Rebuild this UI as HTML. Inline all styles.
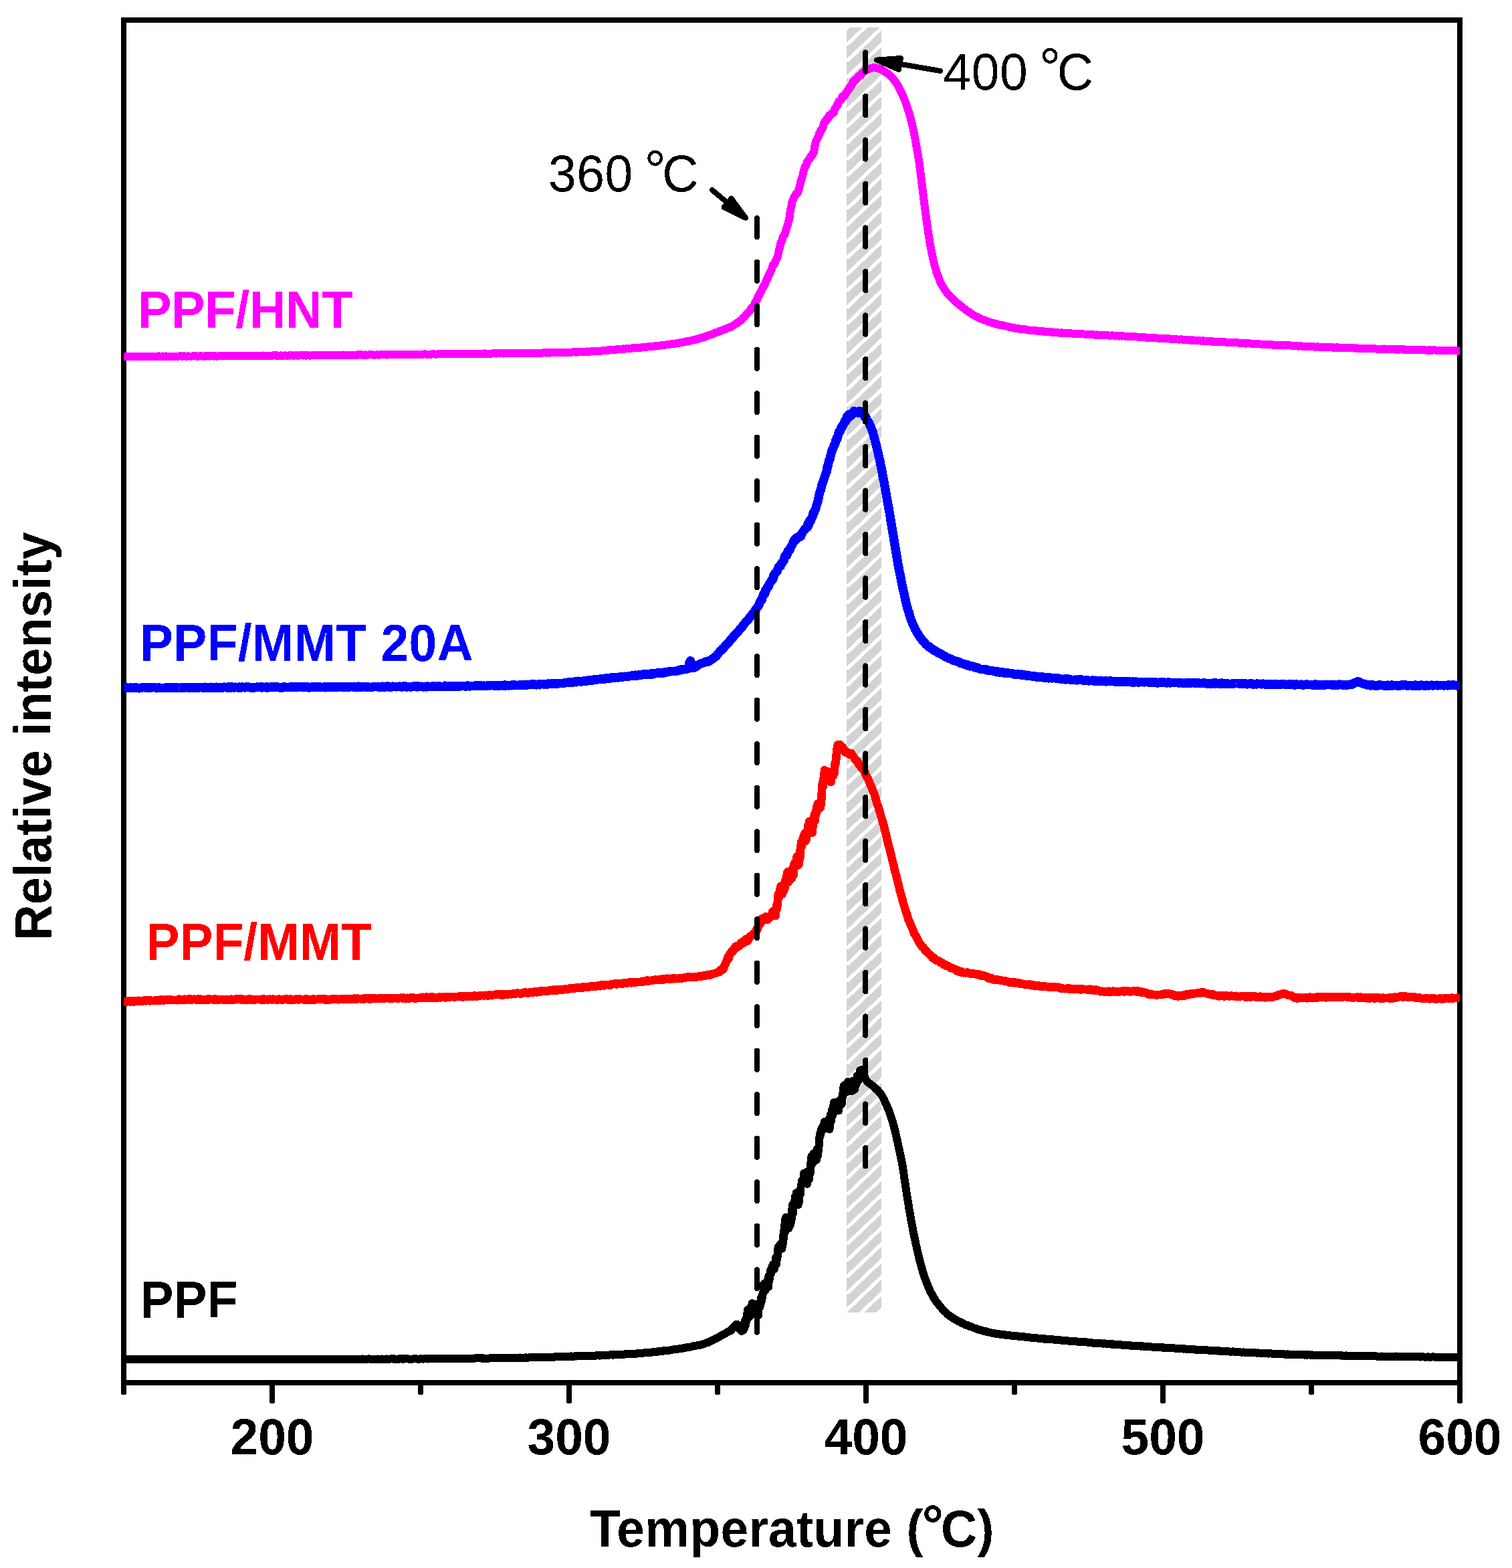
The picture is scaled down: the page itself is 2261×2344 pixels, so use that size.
<!DOCTYPE html>
<html lang="en"><head><meta charset="utf-8"><title>Relative intensity vs Temperature</title>
<style>html,body{margin:0;padding:0;background:#fff}body{width:2261px;height:2344px;overflow:hidden}svg text{white-space:pre}</style>
</head><body>
<svg width="2261" height="2344" viewBox="0 0 2261 2344" style="display:block" shape-rendering="crispEdges" role="img" aria-label="Relative intensity versus temperature for PPF, PPF/MMT, PPF/MMT 20A and PPF/HNT">
<defs><filter id="al" filterUnits="userSpaceOnUse" x="0" y="0" width="2261" height="2344" color-interpolation-filters="sRGB"><feComponentTransfer><feFuncA type="discrete" tableValues="0 1"/></feComponentTransfer></filter><clipPath id="hc"><rect x="1266" y="41" width="52" height="1921"/></clipPath></defs>
<rect width="2261" height="2344" fill="#fff"/>
<rect x="1266" y="41" width="52" height="1921" fill="#d3d3d3"/>
<path d="M1260,-1.0L1324,-61.8M1260,23.6L1324,-37.2M1260,48.1L1324,-12.7M1260,72.7L1324,11.9M1260,97.3L1324,36.5M1260,121.8L1324,61.0M1260,146.4L1324,85.6M1260,171.0L1324,110.2M1260,195.5L1324,134.7M1260,220.1L1324,159.3M1260,244.7L1324,183.9M1260,269.2L1324,208.4M1260,293.8L1324,233.0M1260,318.4L1324,257.6M1260,342.9L1324,282.1M1260,367.5L1324,306.7M1260,392.1L1324,331.3M1260,416.6L1324,355.8M1260,441.2L1324,380.4M1260,465.8L1324,405.0M1260,490.3L1324,429.5M1260,514.9L1324,454.1M1260,539.5L1324,478.7M1260,564.0L1324,503.2M1260,588.6L1324,527.8M1260,613.2L1324,552.4M1260,637.7L1324,576.9M1260,662.3L1324,601.5M1260,686.9L1324,626.0M1260,711.4L1324,650.6M1260,736.0L1324,675.2M1260,760.5L1324,699.7M1260,785.1L1324,724.3M1260,809.7L1324,748.9M1260,834.2L1324,773.4M1260,858.8L1324,798.0M1260,883.4L1324,822.6M1260,907.9L1324,847.1M1260,932.5L1324,871.7M1260,957.1L1324,896.3M1260,981.6L1324,920.8M1260,1006.2L1324,945.4M1260,1030.8L1324,970.0M1260,1055.3L1324,994.5M1260,1079.9L1324,1019.1M1260,1104.5L1324,1043.7M1260,1129.0L1324,1068.2M1260,1153.6L1324,1092.8M1260,1178.2L1324,1117.4M1260,1202.7L1324,1141.9M1260,1227.3L1324,1166.5M1260,1251.9L1324,1191.1M1260,1276.4L1324,1215.6M1260,1301.0L1324,1240.2M1260,1325.6L1324,1264.8M1260,1350.1L1324,1289.3M1260,1374.7L1324,1313.9M1260,1399.3L1324,1338.5M1260,1423.8L1324,1363.0M1260,1448.4L1324,1387.6M1260,1473.0L1324,1412.2M1260,1497.5L1324,1436.7M1260,1522.1L1324,1461.3M1260,1546.7L1324,1485.9M1260,1571.2L1324,1510.4M1260,1595.8L1324,1535.0M1260,1620.4L1324,1559.6M1260,1644.9L1324,1584.1M1260,1669.5L1324,1608.7M1260,1694.1L1324,1633.3M1260,1718.6L1324,1657.8M1260,1743.2L1324,1682.4M1260,1767.8L1324,1707.0M1260,1792.3L1324,1731.5M1260,1816.9L1324,1756.1M1260,1841.5L1324,1780.7M1260,1866.0L1324,1805.2M1260,1890.6L1324,1829.8M1260,1915.1L1324,1854.3M1260,1939.7L1324,1878.9M1260,1964.3L1324,1903.5M1260,1988.8L1324,1928.0M1260,2013.4L1324,1952.6" stroke="#fff" stroke-width="5.5" fill="none" clip-path="url(#hc)"/>
<path d="M1266,67.7h3.7v3.4h-3.7zM1266,92.3h3.7v3.4h-3.7zM1266,116.8h3.7v3.4h-3.7zM1266,141.4h3.7v3.4h-3.7zM1266,166.0h3.7v3.4h-3.7zM1266,190.5h3.7v3.4h-3.7zM1266,215.1h3.7v3.4h-3.7zM1266,239.7h3.7v3.4h-3.7zM1266,264.2h3.7v3.4h-3.7zM1266,288.8h3.7v3.4h-3.7zM1266,313.4h3.7v3.4h-3.7zM1266,337.9h3.7v3.4h-3.7zM1266,362.5h3.7v3.4h-3.7zM1266,387.1h3.7v3.4h-3.7zM1266,411.6h3.7v3.4h-3.7zM1266,436.2h3.7v3.4h-3.7zM1266,460.8h3.7v3.4h-3.7zM1266,485.3h3.7v3.4h-3.7zM1266,509.9h3.7v3.4h-3.7zM1266,534.5h3.7v3.4h-3.7zM1266,559.0h3.7v3.4h-3.7zM1266,583.6h3.7v3.4h-3.7zM1266,608.2h3.7v3.4h-3.7zM1266,632.7h3.7v3.4h-3.7zM1266,657.3h3.7v3.4h-3.7zM1266,681.9h3.7v3.4h-3.7zM1266,706.4h3.7v3.4h-3.7zM1266,731.0h3.7v3.4h-3.7zM1266,755.5h3.7v3.4h-3.7zM1266,780.1h3.7v3.4h-3.7zM1266,804.7h3.7v3.4h-3.7zM1266,829.2h3.7v3.4h-3.7zM1266,853.8h3.7v3.4h-3.7zM1266,878.4h3.7v3.4h-3.7zM1266,902.9h3.7v3.4h-3.7zM1266,927.5h3.7v3.4h-3.7zM1266,952.1h3.7v3.4h-3.7zM1266,976.6h3.7v3.4h-3.7zM1266,1001.2h3.7v3.4h-3.7zM1266,1025.8h3.7v3.4h-3.7zM1266,1050.3h3.7v3.4h-3.7zM1266,1074.9h3.7v3.4h-3.7zM1266,1099.5h3.7v3.4h-3.7zM1266,1124.0h3.7v3.4h-3.7zM1266,1148.6h3.7v3.4h-3.7zM1266,1173.2h3.7v3.4h-3.7zM1266,1197.7h3.7v3.4h-3.7zM1266,1222.3h3.7v3.4h-3.7zM1266,1246.9h3.7v3.4h-3.7zM1266,1271.4h3.7v3.4h-3.7zM1266,1296.0h3.7v3.4h-3.7zM1266,1320.6h3.7v3.4h-3.7zM1266,1345.1h3.7v3.4h-3.7zM1266,1369.7h3.7v3.4h-3.7zM1266,1394.3h3.7v3.4h-3.7zM1266,1418.8h3.7v3.4h-3.7zM1266,1443.4h3.7v3.4h-3.7zM1266,1468.0h3.7v3.4h-3.7zM1266,1492.5h3.7v3.4h-3.7zM1266,1517.1h3.7v3.4h-3.7zM1266,1541.7h3.7v3.4h-3.7zM1266,1566.2h3.7v3.4h-3.7zM1266,1590.8h3.7v3.4h-3.7zM1266,1615.4h3.7v3.4h-3.7zM1266,1639.9h3.7v3.4h-3.7zM1266,1664.5h3.7v3.4h-3.7zM1266,1689.1h3.7v3.4h-3.7zM1266,1713.6h3.7v3.4h-3.7zM1266,1738.2h3.7v3.4h-3.7zM1266,1762.8h3.7v3.4h-3.7zM1266,1787.3h3.7v3.4h-3.7zM1266,1811.9h3.7v3.4h-3.7zM1266,1836.5h3.7v3.4h-3.7zM1266,1861.0h3.7v3.4h-3.7zM1266,1885.6h3.7v3.4h-3.7zM1266,1910.1h3.7v3.4h-3.7zM1266,1934.7h3.7v3.4h-3.7z" fill="#d3d3d3"/>
<g stroke="#000" stroke-width="8" fill="none" stroke-linecap="round">
<path d="M185,30H2183M185,2067H2183" stroke-linecap="square"/>
<path d="M185,30V2081.5M2183,30V2094.5"/>
<path d="M407.0,2067V2094.5M851.0,2067V2094.5M1295.0,2067V2094.5M1739.0,2067V2094.5M629.0,2067V2081.5M1073.0,2067V2081.5M1517.0,2067V2081.5M1961.0,2067V2081.5"/>
</g>
<g fill="none" stroke-linejoin="round" stroke-linecap="butt">
<path d="M185.0,2032.0 L186.5,2032.0 L188.0,2031.9 L189.5,2031.8 L191.0,2031.7 L192.5,2031.9 L194.0,2032.3 L195.5,2032.2 L197.0,2032.2 L198.5,2031.8 L200.0,2032.0 L201.5,2031.9 L203.0,2031.8 L204.5,2031.8 L206.0,2031.8 L207.5,2032.3 L209.0,2032.2 L210.5,2032.2 L212.0,2032.2 L213.5,2031.8 L215.0,2031.9 L216.5,2032.1 L218.0,2032.1 L219.5,2032.2 L221.0,2032.2 L222.5,2031.8 L224.0,2032.1 L225.5,2032.1 L227.0,2032.0 L228.5,2031.8 L230.0,2032.0 L231.5,2031.8 L233.0,2032.3 L234.5,2032.2 L236.0,2032.0 L237.5,2031.9 L239.0,2032.2 L240.5,2032.0 L242.0,2032.2 L243.5,2032.2 L245.0,2032.0 L246.5,2031.9 L248.0,2032.1 L249.5,2032.0 L251.0,2031.8 L252.5,2031.9 L254.0,2032.2 L255.5,2031.7 L257.0,2031.7 L258.5,2032.1 L260.0,2031.9 L261.5,2032.0 L263.0,2032.0 L264.5,2031.9 L266.0,2032.3 L267.5,2031.8 L269.0,2031.9 L270.5,2031.8 L272.0,2032.1 L273.5,2031.9 L275.0,2031.9 L276.5,2032.1 L278.0,2031.9 L279.5,2032.0 L281.0,2032.2 L282.5,2031.8 L284.0,2031.7 L285.5,2031.8 L287.0,2032.2 L288.5,2032.1 L290.0,2031.8 L291.5,2031.9 L293.0,2031.8 L294.5,2032.0 L296.0,2031.7 L297.5,2032.1 L299.0,2032.2 L300.5,2032.3 L302.0,2032.1 L303.5,2032.3 L305.0,2031.7 L306.5,2031.9 L308.0,2032.3 L309.5,2032.2 L311.0,2031.9 L312.5,2032.3 L314.0,2032.1 L315.5,2032.2 L317.0,2031.9 L318.5,2031.8 L320.0,2032.0 L321.5,2031.8 L323.0,2031.9 L324.5,2032.3 L326.0,2031.9 L327.5,2031.7 L329.0,2031.7 L330.5,2031.8 L332.0,2032.2 L333.5,2031.9 L335.0,2031.9 L336.5,2031.8 L338.0,2032.3 L339.5,2032.0 L341.0,2031.8 L342.5,2031.7 L344.0,2031.7 L345.5,2031.8 L347.0,2032.1 L348.5,2031.8 L350.0,2031.7 L351.5,2032.0 L353.0,2031.8 L354.5,2032.3 L356.0,2031.8 L357.5,2032.0 L359.0,2032.2 L360.5,2031.9 L362.0,2032.3 L363.5,2032.0 L365.0,2031.8 L366.5,2031.9 L368.0,2031.7 L369.5,2032.0 L371.0,2031.8 L372.5,2032.2 L374.0,2032.2 L375.5,2032.0 L377.0,2031.7 L378.5,2031.9 L380.0,2031.8 L381.5,2031.8 L383.0,2031.8 L384.5,2032.2 L386.0,2031.8 L387.5,2031.7 L389.0,2032.3 L390.5,2032.0 L391.5,2032.3 L392.0,2031.9 L393.5,2032.2 L395.0,2032.1 L396.5,2032.2 L398.0,2032.1 L399.5,2032.0 L401.0,2031.8 L402.5,2031.8 L404.0,2032.2 L405.5,2032.2 L407.0,2032.3 L408.5,2031.9 L410.0,2032.1 L411.5,2032.2 L413.0,2032.1 L414.5,2032.2 L416.0,2032.0 L417.5,2032.1 L419.0,2032.1 L420.5,2031.8 L422.0,2032.2 L423.5,2032.3 L425.0,2031.7 L426.5,2032.3 L428.0,2032.3 L429.5,2032.1 L431.0,2031.7 L432.5,2032.2 L434.0,2031.8 L435.5,2032.3 L437.0,2032.1 L438.5,2031.7 L440.0,2031.8 L441.5,2032.0 L443.0,2032.0 L444.5,2032.1 L446.0,2032.2 L447.5,2031.8 L449.0,2031.7 L450.5,2032.2 L452.0,2031.7 L453.5,2032.2 L455.0,2031.7 L456.5,2032.1 L458.0,2032.1 L459.5,2032.2 L461.0,2032.0 L462.5,2032.2 L464.0,2031.7 L465.5,2032.0 L467.0,2031.8 L468.5,2032.2 L470.0,2032.1 L471.5,2031.9 L473.0,2031.9 L474.5,2031.6 L476.0,2031.6 L477.5,2032.0 L479.0,2031.9 L480.5,2032.1 L482.0,2032.0 L483.5,2031.7 L485.0,2031.8 L486.5,2032.0 L488.0,2031.9 L489.5,2031.6 L491.0,2032.1 L492.5,2032.1 L494.0,2031.6 L495.5,2031.9 L497.0,2031.8 L498.5,2032.0 L500.0,2031.7 L501.5,2031.7 L503.0,2031.8 L504.5,2032.1 L506.0,2031.6 L507.5,2031.6 L509.0,2031.9 L510.5,2032.1 L512.0,2031.8 L513.5,2031.8 L515.0,2032.0 L516.5,2032.0 L518.0,2031.5 L519.5,2032.0 L521.0,2031.6 L522.5,2031.7 L524.0,2032.0 L525.5,2031.7 L527.0,2031.9 L528.5,2031.6 L530.0,2032.0 L531.5,2031.6 L533.0,2031.5 L534.5,2031.7 L536.0,2031.6 L537.5,2031.8 L539.0,2032.0 L540.5,2031.9 L542.0,2031.4 L543.5,2031.6 L545.0,2031.7 L546.5,2031.7 L548.0,2031.8 L549.5,2031.7 L551.0,2031.4 L552.5,2031.5 L554.0,2031.9 L555.5,2031.6 L557.0,2031.8 L558.5,2032.0 L560.0,2031.7 L561.5,2031.8 L563.0,2031.7 L564.5,2031.5 L566.0,2031.9 L567.5,2031.6 L569.0,2031.9 L570.5,2031.5 L572.0,2031.8 L573.5,2031.8 L575.0,2031.7 L576.5,2031.6 L578.0,2031.4 L579.5,2031.8 L581.0,2031.5 L582.5,2031.7 L584.0,2031.4 L585.5,2031.3 L587.0,2031.3 L588.5,2031.7 L590.0,2031.4 L591.5,2031.8 L593.0,2031.5 L594.5,2031.6 L596.0,2031.4 L597.5,2031.6 L599.0,2031.3 L600.5,2031.5 L602.0,2031.8 L603.0,2031.3 L603.5,2031.6 L605.0,2031.4 L606.5,2031.4 L608.0,2031.2 L609.5,2031.2 L611.0,2031.7 L612.5,2031.7 L614.0,2031.6 L615.5,2031.6 L617.0,2031.7 L618.5,2031.2 L620.0,2031.5 L621.5,2031.4 L623.0,2031.4 L624.5,2031.7 L626.0,2031.5 L627.5,2031.7 L629.0,2031.1 L630.5,2031.4 L632.0,2031.5 L633.5,2031.5 L635.0,2031.4 L636.5,2031.5 L638.0,2031.2 L639.5,2031.6 L641.0,2031.2 L642.5,2031.3 L644.0,2031.5 L645.5,2031.4 L647.0,2031.1 L648.5,2031.1 L650.0,2031.1 L651.5,2031.3 L653.0,2031.5 L654.5,2031.4 L656.0,2031.1 L657.5,2031.1 L659.0,2031.3 L660.5,2031.0 L662.0,2031.1 L663.5,2030.8 L665.0,2030.9 L666.5,2031.1 L668.0,2031.2 L669.5,2031.1 L671.0,2030.9 L672.5,2031.3 L674.0,2031.1 L675.5,2030.8 L677.0,2030.7 L678.5,2031.2 L680.0,2031.2 L681.5,2031.2 L683.0,2031.0 L684.5,2030.8 L686.0,2030.6 L687.5,2030.7 L689.0,2030.7 L690.5,2031.1 L692.0,2031.0 L693.5,2031.0 L695.0,2030.6 L696.5,2030.6 L698.0,2030.6 L699.5,2031.0 L701.0,2030.5 L702.5,2030.9 L704.0,2030.8 L705.5,2030.7 L707.0,2030.9 L708.5,2030.5 L710.0,2030.6 L711.5,2030.4 L713.0,2030.3 L714.5,2030.3 L716.0,2030.4 L717.5,2030.3 L719.0,2030.2 L720.5,2030.8 L722.0,2030.3 L723.5,2030.7 L725.0,2030.5 L726.5,2030.5 L728.0,2030.5 L729.5,2030.6 L731.0,2030.6 L732.5,2030.4 L734.0,2030.3 L735.5,2030.4 L737.0,2030.4 L738.5,2030.3 L740.0,2030.2 L741.5,2030.0 L743.0,2030.4 L744.5,2030.1 L746.0,2029.9 L747.5,2029.9 L749.0,2030.3 L750.5,2029.9 L752.0,2030.0 L753.5,2030.1 L755.0,2030.2 L756.5,2029.9 L758.0,2029.9 L759.5,2029.9 L761.0,2029.6 L761.7,2030.1 L762.5,2029.6 L764.0,2030.1 L765.5,2029.6 L767.0,2029.6 L768.5,2030.0 L770.0,2030.0 L771.5,2029.6 L773.0,2029.8 L774.5,2029.7 L776.0,2029.8 L777.5,2029.5 L779.0,2029.8 L780.5,2029.9 L782.0,2029.7 L783.5,2029.8 L785.0,2029.8 L786.5,2029.4 L788.0,2029.6 L789.5,2029.6 L791.0,2029.4 L792.5,2029.1 L794.0,2029.4 L795.5,2029.5 L797.0,2029.1 L798.5,2029.3 L800.0,2029.4 L801.5,2029.2 L803.0,2028.8 L804.5,2029.2 L806.0,2028.9 L807.5,2029.2 L809.0,2029.1 L810.5,2028.8 L812.0,2029.1 L813.5,2028.9 L815.0,2028.7 L816.5,2029.0 L818.0,2029.0 L819.5,2028.9 L821.0,2028.9 L822.5,2028.7 L824.0,2028.7 L825.5,2028.6 L827.0,2028.5 L828.5,2028.8 L830.0,2028.3 L831.5,2028.1 L833.0,2028.5 L834.5,2028.3 L836.0,2028.3 L837.5,2028.3 L839.0,2028.0 L840.5,2027.9 L842.0,2027.8 L843.5,2028.2 L845.0,2028.2 L846.5,2028.1 L848.0,2027.7 L849.5,2028.1 L851.0,2028.0 L852.5,2027.8 L854.0,2027.4 L855.5,2027.9 L857.0,2027.7 L858.5,2027.7 L860.0,2027.2 L861.5,2027.6 L863.0,2027.2 L864.5,2027.4 L866.0,2027.1 L867.5,2027.2 L869.0,2027.5 L870.5,2027.4 L872.0,2027.3 L873.5,2027.0 L875.0,2027.0 L876.5,2027.1 L878.0,2026.7 L879.5,2026.9 L881.0,2027.1 L882.5,2027.0 L884.0,2027.0 L885.5,2026.6 L887.0,2026.8 L888.5,2026.8 L890.0,2026.7 L891.5,2026.4 L893.0,2026.2 L894.5,2026.1 L896.0,2026.5 L897.5,2026.5 L899.0,2026.1 L900.5,2026.3 L902.0,2026.0 L903.5,2026.1 L905.0,2026.1 L906.5,2025.8 L908.0,2025.9 L909.5,2025.6 L911.0,2025.7 L912.5,2025.3 L914.0,2025.4 L915.5,2025.4 L917.0,2025.7 L918.5,2025.1 L920.0,2025.4 L921.5,2025.0 L923.0,2025.4 L924.5,2024.9 L926.0,2024.7 L927.5,2024.7 L929.0,2025.1 L930.5,2024.8 L932.0,2024.9 L933.5,2024.6 L935.0,2024.3 L936.5,2024.3 L938.0,2024.3 L939.5,2024.5 L941.0,2024.0 L942.5,2023.9 L944.0,2024.2 L945.5,2023.6 L946.8,2024.1 L947.0,2023.7 L948.5,2023.7 L950.0,2023.7 L951.5,2023.7 L953.0,2023.1 L954.5,2023.5 L956.0,2023.0 L957.5,2023.2 L959.0,2022.6 L960.5,2023.0 L962.0,2022.5 L963.5,2022.4 L965.0,2022.1 L966.5,2022.2 L968.0,2022.0 L969.5,2022.3 L971.0,2021.9 L972.5,2021.6 L974.0,2021.8 L975.5,2021.2 L977.0,2021.1 L978.5,2021.3 L980.0,2021.2 L981.5,2020.8 L983.0,2020.9 L984.5,2020.1 L986.0,2020.5 L987.5,2020.2 L989.0,2020.0 L990.5,2019.9 L992.0,2019.3 L993.5,2019.2 L995.0,2019.0 L996.5,2019.0 L998.0,2018.8 L999.5,2018.6 L999.7,2018.5 L1001.0,2018.6 L1002.5,2018.4 L1004.0,2018.2 L1005.5,2017.6 L1007.0,2017.4 L1008.5,2017.2 L1010.0,2017.0 L1011.5,2017.0 L1013.0,2016.5 L1014.5,2016.6 L1016.0,2016.2 L1017.5,2015.9 L1019.0,2015.9 L1020.5,2015.8 L1022.0,2015.1 L1023.5,2014.9 L1025.0,2015.0 L1026.5,2014.3 L1028.0,2013.9 L1029.5,2013.7 L1031.0,2013.8 L1032.5,2013.5 L1034.0,2013.4 L1035.5,2012.8 L1036.7,2012.3 L1037.0,2012.4 L1038.5,2012.4 L1040.0,2011.9 L1041.5,2011.5 L1043.0,2011.3 L1044.5,2011.1 L1046.0,2010.7 L1047.5,2010.4 L1049.0,2009.8 L1050.0,2009.5 L1050.5,2009.8 L1052.0,2009.3 L1053.5,2008.7 L1055.0,2008.0 L1056.5,2007.5 L1058.0,2007.0 L1059.5,2006.6 L1061.0,2005.7 L1062.5,2005.3 L1064.0,2004.3 L1065.5,2003.4 L1067.0,2002.9 L1068.5,2002.2 L1070.0,2001.4 L1071.5,2000.7 L1073.0,1999.5 L1074.5,1999.0 L1075.5,1998.7 L1076.0,1998.0 L1077.5,1997.2 L1079.0,1996.5 L1080.5,1995.7 L1082.0,1995.0 L1083.5,1994.0 L1085.0,1993.4 L1086.5,1992.2 L1088.0,1991.3 L1089.5,1990.6 L1091.0,1989.5 L1092.5,1989.5 L1093.4,1989.1 L1094.0,1986.5 L1095.5,1985.1 L1097.0,1984.3 L1098.5,1982.9 L1100.0,1980.8 L1101.0,1983.6 L1101.5,1979.6 L1103.0,1981.9 L1104.5,1980.9 L1106.0,1986.8 L1107.5,1986.5 L1109.0,1990.0 L1110.5,1985.6 L1111.2,1989.1 L1112.0,1987.4 L1112.6,1981.8 L1113.2,1985.2 L1113.8,1983.4 L1114.4,1973.0 L1115.0,1980.7 L1115.6,1977.0 L1116.2,1972.7 L1116.8,1970.0 L1117.4,1963.6 L1118.0,1958.1 L1118.6,1964.3 L1119.2,1970.0 L1119.8,1957.0 L1120.4,1960.7 L1121.0,1956.3 L1121.6,1962.8 L1122.2,1967.0 L1122.8,1965.1 L1123.4,1953.9 L1124.0,1955.9 L1124.6,1948.3 L1125.2,1957.6 L1125.8,1963.4 L1126.4,1963.2 L1127.0,1949.3 L1127.6,1955.8 L1128.2,1949.4 L1128.8,1955.6 L1129.4,1964.4 L1130.0,1953.1 L1130.6,1963.2 L1131.2,1965.2 L1131.8,1962.7 L1132.4,1951.6 L1133.0,1964.5 L1133.6,1964.6 L1134.2,1966.0 L1134.8,1948.0 L1135.4,1947.3 L1136.0,1951.2 L1136.6,1953.4 L1137.2,1949.2 L1137.8,1940.4 L1138.4,1947.2 L1139.0,1944.5 L1139.6,1940.6 L1140.2,1935.2 L1140.8,1932.9 L1141.4,1933.0 L1142.0,1919.9 L1142.6,1925.4 L1143.2,1919.2 L1143.8,1918.0 L1144.4,1929.3 L1145.0,1921.0 L1145.6,1920.8 L1146.2,1919.1 L1146.8,1924.1 L1147.4,1914.8 L1148.0,1922.8 L1148.6,1910.5 L1149.2,1923.9 L1149.8,1906.8 L1150.4,1915.2 L1151.0,1908.5 L1151.6,1903.8 L1152.2,1899.1 L1152.8,1897.7 L1153.4,1903.0 L1154.0,1897.6 L1154.6,1897.3 L1155.2,1891.7 L1155.8,1898.2 L1156.4,1889.8 L1157.0,1895.1 L1157.6,1897.6 L1158.2,1894.3 L1158.8,1892.8 L1159.4,1889.7 L1160.0,1880.0 L1160.6,1890.7 L1161.2,1882.7 L1161.8,1880.4 L1162.4,1881.6 L1163.0,1869.6 L1163.6,1865.2 L1164.2,1863.3 L1164.8,1862.9 L1165.4,1862.4 L1166.0,1862.4 L1166.6,1860.3 L1167.2,1865.1 L1167.8,1861.4 L1168.4,1862.5 L1169.0,1866.9 L1169.6,1857.3 L1170.2,1863.3 L1170.8,1858.3 L1171.4,1846.0 L1172.0,1851.3 L1172.6,1835.6 L1173.2,1830.3 L1173.8,1842.8 L1174.4,1821.8 L1175.0,1819.8 L1175.6,1835.2 L1176.2,1819.5 L1176.8,1831.2 L1177.4,1829.3 L1178.0,1823.3 L1178.6,1823.6 L1179.2,1836.6 L1179.8,1826.2 L1180.4,1823.3 L1181.0,1826.8 L1181.6,1831.9 L1182.2,1823.1 L1182.8,1817.3 L1183.4,1826.5 L1184.0,1810.0 L1184.6,1805.4 L1185.2,1800.6 L1185.8,1814.6 L1186.4,1800.7 L1187.0,1802.4 L1187.6,1795.8 L1188.2,1801.2 L1188.8,1789.0 L1189.4,1789.2 L1190.0,1795.3 L1190.6,1783.3 L1191.2,1790.0 L1191.8,1797.3 L1192.4,1794.2 L1193.0,1792.9 L1193.6,1801.1 L1194.2,1792.2 L1194.8,1797.4 L1195.4,1790.5 L1196.0,1783.1 L1196.6,1785.8 L1197.2,1779.0 L1197.8,1771.7 L1198.4,1772.3 L1199.0,1765.3 L1199.6,1767.3 L1200.2,1768.5 L1200.8,1765.6 L1201.4,1765.6 L1202.0,1754.2 L1202.6,1760.3 L1203.2,1764.6 L1203.8,1756.3 L1204.4,1766.3 L1205.0,1752.4 L1205.6,1767.8 L1206.2,1767.7 L1206.8,1770.0 L1207.4,1767.7 L1208.0,1765.4 L1208.6,1759.5 L1209.2,1762.8 L1209.8,1763.3 L1210.4,1754.8 L1211.0,1752.4 L1211.6,1754.5 L1212.2,1739.5 L1212.8,1737.0 L1213.4,1728.4 L1214.0,1741.0 L1214.6,1734.6 L1215.2,1734.1 L1215.8,1725.6 L1216.4,1724.2 L1217.0,1729.1 L1217.6,1736.0 L1218.2,1726.3 L1218.8,1727.2 L1219.4,1726.8 L1220.0,1734.2 L1220.6,1720.8 L1221.2,1733.7 L1221.8,1717.5 L1222.4,1728.5 L1223.0,1727.5 L1223.6,1719.2 L1224.2,1720.4 L1224.8,1707.7 L1225.4,1700.4 L1226.0,1699.3 L1226.6,1692.7 L1227.2,1696.2 L1227.8,1689.3 L1228.4,1687.7 L1229.0,1690.8 L1229.6,1685.5 L1230.2,1684.9 L1230.8,1687.8 L1231.4,1687.1 L1232.0,1683.9 L1232.6,1676.9 L1233.2,1680.0 L1233.8,1684.6 L1234.4,1685.3 L1235.0,1687.5 L1235.6,1684.8 L1236.2,1683.7 L1236.8,1676.4 L1237.4,1683.2 L1238.0,1675.5 L1238.6,1683.9 L1239.2,1675.4 L1239.8,1672.2 L1240.4,1688.1 L1241.0,1685.0 L1241.6,1672.7 L1242.2,1665.5 L1242.8,1676.7 L1243.4,1673.1 L1244.0,1659.2 L1244.6,1668.4 L1245.2,1666.3 L1245.8,1659.6 L1246.4,1652.8 L1247.0,1648.1 L1247.6,1647.9 L1248.2,1654.6 L1248.8,1659.6 L1249.4,1658.0 L1250.0,1650.5 L1250.6,1660.8 L1251.2,1647.6 L1251.8,1657.4 L1252.4,1649.5 L1253.0,1646.4 L1253.6,1649.7 L1254.2,1660.5 L1254.8,1649.9 L1255.4,1645.7 L1256.0,1653.2 L1256.6,1649.4 L1257.2,1651.5 L1257.8,1649.3 L1258.4,1649.0 L1259.0,1649.9 L1259.6,1636.6 L1260.2,1639.1 L1260.8,1627.1 L1261.4,1627.2 L1262.0,1622.6 L1262.6,1634.9 L1263.2,1624.5 L1263.8,1630.5 L1264.4,1633.1 L1265.0,1624.0 L1265.6,1620.5 L1266.2,1621.0 L1266.8,1625.1 L1267.4,1623.0 L1268.0,1617.2 L1268.6,1631.0 L1269.2,1627.1 L1269.8,1631.1 L1270.4,1630.5 L1271.0,1628.2 L1271.6,1629.9 L1272.2,1627.6 L1272.8,1622.5 L1273.4,1629.4 L1274.0,1631.0 L1274.6,1616.3 L1275.2,1616.7 L1275.8,1617.0 L1276.4,1621.9 L1277.0,1629.0 L1277.6,1622.6 L1278.2,1628.1 L1278.8,1618.8 L1279.4,1621.6 L1280.0,1615.1 L1280.6,1620.9 L1281.2,1613.6 L1281.8,1608.3 L1282.4,1612.8 L1283.0,1613.3 L1283.6,1615.3 L1284.2,1606.1 L1284.8,1611.2 L1285.4,1607.8 L1286.0,1600.0 L1286.6,1603.8 L1287.2,1603.5 L1287.8,1602.4 L1288.4,1600.3 L1289.0,1598.7 L1289.6,1599.9 L1290.2,1600.6 L1290.8,1601.5 L1291.4,1601.9 L1292.0,1606.8 L1292.6,1608.2 L1294.1,1612.3 L1294.5,1613.6 L1295.6,1615.0 L1297.1,1617.0 L1298.6,1618.2 L1300.1,1619.6 L1301.6,1620.5 L1303.1,1621.9 L1304.6,1622.9 L1306.1,1623.8 L1306.7,1624.7 L1307.6,1625.4 L1309.1,1626.6 L1310.6,1628.4 L1312.1,1629.3 L1313.6,1631.1 L1315.1,1632.9 L1316.6,1634.5 L1317.3,1635.6 L1318.1,1637.0 L1319.6,1639.2 L1321.1,1642.2 L1322.6,1645.0 L1324.1,1648.7 L1325.2,1651.2 L1325.6,1651.6 L1327.1,1655.4 L1328.6,1658.9 L1330.1,1662.6 L1331.6,1666.9 L1333.1,1671.6 L1333.1,1671.5 L1334.6,1676.4 L1336.1,1681.5 L1337.6,1687.3 L1338.9,1692.6 L1339.1,1693.5 L1340.6,1700.1 L1342.1,1706.7 L1343.6,1713.6 L1344.2,1716.7 L1345.1,1720.7 L1346.6,1727.5 L1348.1,1734.7 L1349.0,1739.2 L1349.6,1742.5 L1351.1,1752.1 L1352.6,1762.8 L1353.7,1770.1 L1354.1,1772.8 L1355.6,1782.5 L1357.1,1791.9 L1358.6,1801.4 L1360.1,1810.8 L1361.2,1816.6 L1361.6,1819.0 L1363.1,1827.3 L1364.6,1835.3 L1366.1,1843.1 L1367.6,1850.3 L1369.1,1857.6 L1370.6,1864.2 L1371.4,1867.8 L1372.1,1870.7 L1373.6,1877.1 L1375.1,1883.3 L1376.6,1889.0 L1378.1,1894.4 L1379.6,1899.8 L1381.1,1904.7 L1381.6,1906.0 L1382.6,1908.9 L1384.1,1913.2 L1385.6,1917.4 L1387.1,1920.8 L1388.6,1924.8 L1390.1,1927.9 L1391.6,1931.6 L1393.1,1934.1 L1394.4,1936.9 L1394.6,1936.8 L1396.1,1939.6 L1397.6,1941.9 L1399.1,1944.5 L1400.6,1946.6 L1402.1,1948.3 L1403.6,1950.2 L1405.1,1952.4 L1406.6,1954.0 L1407.1,1954.5 L1408.1,1955.6 L1409.6,1957.2 L1411.1,1958.9 L1412.6,1960.3 L1414.1,1961.6 L1415.6,1963.1 L1417.1,1964.8 L1418.6,1965.9 L1420.1,1967.0 L1421.6,1968.3 L1422.4,1968.6 L1423.1,1969.0 L1424.6,1970.3 L1426.1,1970.8 L1427.6,1972.2 L1429.1,1972.7 L1430.6,1973.8 L1432.1,1974.6 L1433.6,1975.5 L1435.1,1975.9 L1436.6,1977.0 L1437.8,1977.7 L1438.1,1977.4 L1439.6,1978.5 L1441.1,1978.9 L1442.6,1979.9 L1444.1,1980.7 L1445.6,1980.7 L1447.1,1981.6 L1448.6,1982.2 L1450.0,1983.0 L1450.1,1983.0 L1451.6,1983.0 L1453.1,1983.6 L1454.6,1984.3 L1456.1,1985.1 L1457.6,1985.6 L1459.1,1985.9 L1460.6,1986.7 L1462.1,1987.1 L1463.6,1987.7 L1465.1,1988.0 L1466.6,1988.2 L1468.1,1989.0 L1469.6,1989.4 L1471.1,1990.0 L1472.6,1990.0 L1474.1,1990.3 L1475.6,1990.9 L1477.1,1991.2 L1478.6,1991.6 L1480.1,1991.8 L1481.6,1992.4 L1483.1,1992.6 L1484.6,1992.8 L1484.6,1992.7 L1486.1,1993.2 L1487.6,1993.2 L1489.1,1993.9 L1490.6,1993.7 L1492.1,1994.3 L1493.6,1994.1 L1495.1,1994.4 L1496.6,1994.9 L1498.1,1994.9 L1499.6,1995.1 L1501.1,1995.5 L1502.6,1995.3 L1504.1,1995.8 L1505.6,1995.8 L1507.1,1995.8 L1508.6,1996.0 L1510.1,1996.2 L1511.6,1996.5 L1513.1,1996.6 L1514.6,1996.8 L1516.1,1997.0 L1517.6,1997.3 L1519.1,1997.3 L1520.6,1997.2 L1522.1,1997.6 L1523.6,1997.8 L1525.1,1998.1 L1526.6,1997.9 L1526.9,1998.0 L1528.1,1998.3 L1529.6,1998.2 L1531.1,1998.3 L1532.6,1998.7 L1534.1,1998.7 L1535.6,1999.1 L1537.1,1999.0 L1538.6,1999.0 L1540.1,1999.4 L1541.6,1999.6 L1543.1,1999.9 L1544.6,2000.1 L1546.1,1999.9 L1547.6,2000.0 L1549.1,2000.3 L1550.6,2000.4 L1552.1,2000.6 L1553.6,2000.6 L1555.1,2001.0 L1556.6,2001.2 L1558.1,2001.2 L1559.6,2001.4 L1561.1,2001.6 L1562.6,2001.3 L1564.1,2001.9 L1565.6,2001.6 L1567.1,2001.6 L1568.6,2002.0 L1570.1,2001.9 L1571.6,2002.1 L1573.1,2002.5 L1574.6,2002.3 L1576.1,2002.6 L1577.6,2002.7 L1579.1,2003.2 L1580.6,2002.8 L1582.1,2003.2 L1583.6,2003.3 L1585.1,2003.2 L1586.6,2003.5 L1588.1,2003.6 L1589.6,2003.7 L1591.1,2004.0 L1592.6,2004.1 L1594.1,2004.2 L1595.6,2004.3 L1597.1,2004.5 L1598.6,2004.6 L1600.1,2004.5 L1601.6,2004.9 L1603.1,2004.9 L1604.6,2005.3 L1606.1,2004.9 L1607.6,2005.3 L1609.1,2005.3 L1610.6,2005.6 L1611.5,2005.8 L1612.1,2005.7 L1613.6,2005.8 L1615.1,2006.1 L1616.6,2005.8 L1618.1,2006.4 L1619.6,2006.2 L1621.1,2006.4 L1622.6,2006.2 L1624.1,2006.3 L1625.6,2006.5 L1627.1,2006.8 L1628.6,2006.8 L1630.1,2007.2 L1631.6,2007.0 L1633.1,2007.4 L1634.6,2007.6 L1636.1,2007.6 L1637.6,2007.9 L1639.1,2007.9 L1640.6,2008.0 L1642.1,2007.7 L1643.6,2008.1 L1645.1,2008.0 L1646.6,2008.2 L1648.1,2008.5 L1649.6,2008.6 L1651.1,2008.4 L1652.6,2008.5 L1654.1,2008.6 L1655.6,2009.1 L1657.1,2009.2 L1658.6,2008.9 L1660.1,2009.0 L1661.6,2009.1 L1663.1,2009.8 L1664.6,2009.3 L1666.1,2009.7 L1667.6,2010.0 L1669.1,2009.7 L1670.6,2010.1 L1672.1,2010.0 L1673.6,2010.3 L1675.1,2010.3 L1676.6,2010.2 L1678.1,2010.8 L1679.6,2010.6 L1681.1,2011.0 L1682.6,2010.9 L1684.1,2011.2 L1685.6,2011.1 L1687.1,2010.9 L1688.6,2010.9 L1690.1,2011.6 L1691.6,2011.5 L1693.1,2011.7 L1694.6,2011.8 L1696.1,2011.7 L1697.6,2012.0 L1699.1,2012.0 L1700.6,2011.8 L1702.1,2012.2 L1703.6,2012.5 L1705.1,2012.4 L1706.6,2012.6 L1708.1,2012.3 L1709.6,2012.6 L1711.1,2012.7 L1712.6,2012.9 L1714.1,2013.1 L1715.6,2013.0 L1717.1,2013.2 L1718.6,2013.2 L1720.1,2013.4 L1721.6,2013.5 L1723.1,2013.5 L1724.6,2013.5 L1726.1,2013.9 L1727.6,2013.7 L1729.1,2014.0 L1730.6,2013.9 L1732.1,2014.4 L1733.6,2014.0 L1735.1,2014.2 L1736.6,2014.3 L1738.1,2014.7 L1738.4,2014.6 L1739.6,2014.4 L1741.1,2014.5 L1742.6,2014.9 L1744.1,2014.8 L1745.6,2014.8 L1747.1,2014.8 L1748.6,2015.3 L1750.1,2015.3 L1751.6,2015.5 L1753.1,2015.2 L1754.6,2015.5 L1756.1,2015.4 L1757.6,2015.7 L1759.1,2015.6 L1760.6,2015.7 L1762.1,2016.0 L1763.6,2015.9 L1765.1,2016.3 L1766.6,2016.1 L1768.1,2016.2 L1769.6,2016.6 L1771.1,2016.4 L1772.6,2016.5 L1774.1,2016.9 L1775.6,2016.8 L1777.1,2017.1 L1778.6,2017.2 L1780.1,2017.3 L1781.6,2016.9 L1783.1,2017.2 L1784.6,2017.3 L1786.1,2017.3 L1787.6,2017.7 L1789.1,2017.5 L1790.6,2017.9 L1792.1,2017.5 L1793.6,2017.8 L1795.1,2018.0 L1796.6,2018.2 L1798.1,2018.1 L1799.6,2018.4 L1801.1,2018.2 L1802.6,2018.3 L1804.1,2018.3 L1805.6,2018.3 L1807.1,2018.6 L1808.6,2018.8 L1810.1,2018.6 L1811.6,2018.9 L1813.1,2018.9 L1814.6,2019.3 L1816.1,2019.1 L1817.6,2019.4 L1819.1,2019.1 L1820.6,2019.6 L1822.1,2019.2 L1823.0,2019.3 L1823.6,2019.6 L1825.1,2019.6 L1826.6,2019.7 L1828.1,2019.9 L1829.6,2019.8 L1831.1,2020.0 L1832.6,2020.0 L1834.1,2020.2 L1835.6,2020.3 L1837.1,2020.2 L1838.6,2020.5 L1840.1,2020.6 L1841.6,2020.8 L1843.1,2020.3 L1844.6,2020.6 L1846.1,2020.6 L1847.6,2020.6 L1849.1,2020.9 L1850.6,2021.2 L1852.1,2020.9 L1853.6,2021.3 L1855.1,2021.4 L1856.6,2021.6 L1858.1,2021.6 L1859.6,2021.3 L1861.1,2021.7 L1862.6,2021.7 L1864.1,2021.6 L1865.6,2022.0 L1867.1,2021.8 L1868.6,2022.2 L1870.1,2022.3 L1871.6,2022.0 L1873.1,2022.0 L1874.6,2022.4 L1876.1,2022.1 L1877.6,2022.2 L1879.1,2022.7 L1880.6,2022.4 L1882.1,2022.5 L1883.6,2022.6 L1885.1,2022.9 L1886.6,2022.7 L1888.1,2022.8 L1889.6,2022.7 L1891.1,2022.9 L1892.6,2023.3 L1894.1,2023.3 L1895.6,2023.3 L1897.1,2023.6 L1898.6,2023.1 L1900.1,2023.3 L1901.6,2023.6 L1903.1,2023.5 L1904.6,2024.0 L1906.1,2023.6 L1907.6,2024.1 L1907.6,2023.9 L1909.1,2024.0 L1910.6,2024.2 L1912.1,2024.0 L1913.6,2024.0 L1915.1,2024.1 L1916.6,2024.3 L1918.1,2024.4 L1919.6,2024.4 L1921.1,2024.6 L1922.6,2024.5 L1924.1,2024.7 L1925.6,2024.3 L1927.1,2024.8 L1928.6,2024.7 L1930.1,2024.6 L1931.6,2024.6 L1933.1,2024.9 L1934.6,2024.7 L1936.1,2024.9 L1937.6,2025.1 L1939.1,2024.9 L1940.6,2025.0 L1942.1,2024.9 L1943.6,2025.1 L1945.1,2025.5 L1946.6,2025.2 L1948.1,2025.2 L1949.6,2025.2 L1949.9,2025.5 L1951.1,2025.6 L1952.6,2025.3 L1954.1,2025.7 L1955.6,2025.2 L1957.1,2025.3 L1958.6,2025.4 L1960.1,2025.8 L1961.6,2025.4 L1963.1,2025.9 L1964.6,2025.6 L1966.1,2025.7 L1967.6,2025.6 L1969.1,2026.0 L1970.6,2025.8 L1972.1,2026.2 L1973.6,2026.1 L1975.1,2026.0 L1976.6,2026.0 L1978.1,2026.1 L1979.6,2026.1 L1981.1,2026.4 L1982.6,2025.9 L1984.1,2026.0 L1985.6,2026.5 L1987.1,2026.3 L1988.6,2026.3 L1990.1,2026.2 L1991.6,2026.0 L1993.1,2026.1 L1994.6,2026.5 L1996.1,2026.2 L1997.6,2026.4 L1999.1,2026.4 L2000.6,2026.2 L2002.1,2026.2 L2003.6,2026.2 L2005.1,2026.6 L2006.6,2026.4 L2008.1,2026.6 L2009.6,2026.6 L2011.1,2026.8 L2012.6,2026.4 L2014.1,2026.6 L2015.6,2026.8 L2017.1,2026.8 L2018.6,2026.7 L2020.1,2026.8 L2021.6,2026.9 L2023.1,2027.0 L2024.6,2026.8 L2026.1,2026.6 L2027.6,2026.6 L2029.1,2027.0 L2030.6,2027.0 L2032.1,2026.9 L2033.6,2027.1 L2035.1,2026.8 L2036.6,2026.9 L2038.1,2026.9 L2039.6,2027.2 L2041.1,2027.3 L2042.6,2026.9 L2044.1,2026.9 L2045.6,2027.0 L2047.1,2027.4 L2048.6,2027.5 L2050.1,2026.9 L2051.6,2027.1 L2053.1,2027.2 L2054.6,2027.5 L2056.1,2027.3 L2057.6,2027.3 L2059.1,2027.6 L2060.6,2027.5 L2062.1,2027.6 L2063.6,2027.6 L2065.1,2027.7 L2066.6,2027.5 L2068.1,2027.6 L2069.6,2027.5 L2071.1,2027.6 L2072.6,2027.8 L2074.1,2027.8 L2075.6,2027.8 L2076.8,2027.7 L2077.1,2027.6 L2078.6,2027.6 L2080.1,2027.6 L2081.6,2028.0 L2083.1,2027.8 L2084.6,2027.9 L2086.1,2027.9 L2087.6,2027.5 L2089.1,2027.8 L2090.6,2027.7 L2092.1,2028.1 L2093.6,2028.0 L2095.1,2027.8 L2096.6,2027.9 L2098.1,2028.2 L2099.6,2028.0 L2101.1,2028.1 L2102.6,2027.9 L2104.1,2028.0 L2105.6,2028.2 L2107.1,2027.9 L2108.6,2028.2 L2110.1,2028.4 L2111.6,2028.5 L2113.1,2028.2 L2114.6,2028.3 L2116.1,2028.5 L2117.6,2028.4 L2119.1,2028.5 L2120.6,2028.3 L2122.1,2028.1 L2123.6,2028.6 L2125.1,2028.1 L2126.6,2028.5 L2128.1,2028.3 L2129.6,2028.6 L2131.1,2028.6 L2132.6,2028.5 L2134.1,2028.5 L2135.6,2028.4 L2137.1,2028.9 L2138.6,2028.6 L2140.1,2028.9 L2141.6,2028.4 L2143.1,2028.4 L2144.6,2028.5 L2146.1,2028.6 L2147.6,2029.0 L2149.1,2028.5 L2150.6,2028.8 L2152.1,2029.0 L2153.6,2028.7 L2155.1,2028.7 L2156.6,2028.7 L2158.1,2028.6 L2159.6,2029.0 L2161.1,2029.0 L2162.6,2028.8 L2164.1,2029.0 L2165.6,2029.0 L2167.1,2029.2 L2168.6,2028.9 L2170.1,2028.9 L2171.6,2029.3 L2173.1,2029.3 L2174.6,2029.3 L2176.1,2029.1 L2177.6,2029.3 L2179.1,2029.2 L2180.6,2029.3 L2182.1,2029.3 L2183.0,2029.3" stroke="#000" stroke-width="12"/>
<path d="M185.0,1497.4 L186.5,1497.3 L188.0,1497.0 L189.5,1497.4 L191.0,1497.3 L192.5,1496.3 L194.0,1496.1 L195.5,1497.5 L197.0,1496.4 L198.5,1496.3 L200.0,1497.6 L201.5,1496.6 L203.0,1497.2 L204.5,1496.4 L206.0,1496.7 L207.5,1495.7 L209.0,1496.5 L210.5,1496.9 L212.0,1496.2 L213.5,1496.5 L215.0,1496.3 L216.5,1495.2 L218.0,1496.4 L219.5,1496.0 L221.0,1495.4 L222.5,1494.9 L224.0,1496.3 L225.5,1495.5 L227.0,1495.9 L228.5,1496.1 L230.0,1495.8 L231.5,1496.1 L233.0,1495.1 L234.5,1495.8 L236.0,1495.1 L237.5,1495.9 L239.0,1495.8 L240.5,1494.3 L242.0,1494.3 L243.5,1494.4 L245.0,1495.7 L246.5,1494.7 L248.0,1495.0 L249.5,1494.4 L251.0,1494.7 L252.5,1494.5 L254.0,1494.4 L255.5,1494.7 L257.0,1494.7 L258.5,1495.2 L260.0,1494.8 L261.5,1495.2 L263.0,1495.1 L264.5,1495.3 L266.0,1494.7 L267.5,1493.7 L269.0,1495.0 L270.5,1495.1 L272.0,1495.0 L273.5,1494.4 L275.0,1494.6 L276.5,1493.7 L278.0,1494.8 L279.5,1494.4 L281.0,1493.8 L282.5,1493.4 L284.0,1494.8 L285.5,1495.1 L285.8,1493.5 L287.0,1494.7 L288.5,1494.0 L290.0,1493.6 L291.5,1493.8 L293.0,1494.7 L294.5,1494.9 L296.0,1493.4 L297.5,1494.4 L299.0,1493.4 L300.5,1494.6 L302.0,1493.9 L303.5,1494.9 L305.0,1495.1 L306.5,1494.2 L308.0,1495.1 L309.5,1493.9 L311.0,1493.4 L312.5,1494.4 L314.0,1493.4 L315.5,1493.7 L317.0,1494.0 L318.5,1494.4 L320.0,1493.6 L321.5,1493.4 L323.0,1494.9 L324.5,1493.9 L326.0,1495.0 L327.5,1494.9 L329.0,1494.0 L330.5,1494.1 L332.0,1494.2 L333.5,1494.5 L335.0,1494.4 L336.5,1494.3 L338.0,1494.4 L339.5,1495.0 L341.0,1494.2 L342.5,1494.1 L344.0,1494.6 L345.5,1493.7 L347.0,1493.8 L348.5,1495.1 L350.0,1494.2 L351.5,1494.3 L353.0,1493.3 L354.5,1494.0 L356.0,1494.3 L357.5,1493.3 L359.0,1494.4 L360.5,1494.4 L362.0,1493.4 L363.5,1494.4 L365.0,1494.1 L366.5,1494.5 L368.0,1493.9 L369.5,1494.6 L371.0,1494.6 L372.5,1493.3 L374.0,1493.4 L375.5,1494.5 L377.0,1495.0 L378.5,1493.8 L380.0,1494.1 L381.5,1494.4 L383.0,1493.9 L384.5,1494.0 L386.0,1493.9 L387.5,1494.0 L389.0,1494.4 L390.5,1493.8 L391.5,1494.0 L392.0,1494.7 L393.5,1493.3 L395.0,1494.3 L396.5,1494.6 L398.0,1493.9 L399.5,1493.7 L401.0,1494.7 L402.5,1493.7 L404.0,1493.6 L405.5,1494.1 L407.0,1494.5 L408.5,1493.5 L410.0,1493.9 L411.5,1493.9 L413.0,1494.8 L414.5,1494.1 L416.0,1494.8 L417.5,1493.6 L419.0,1493.9 L420.5,1494.4 L422.0,1494.8 L423.5,1494.1 L425.0,1493.6 L426.5,1493.4 L428.0,1494.2 L429.5,1493.6 L431.0,1494.7 L432.5,1494.7 L434.0,1493.5 L435.5,1493.7 L437.0,1494.6 L438.5,1494.3 L440.0,1494.6 L441.5,1493.8 L443.0,1493.4 L444.5,1493.7 L446.0,1494.6 L447.5,1493.6 L449.0,1493.7 L450.5,1493.9 L452.0,1493.9 L453.5,1493.8 L455.0,1494.7 L456.5,1493.4 L458.0,1493.1 L459.5,1494.8 L461.0,1494.6 L462.5,1494.8 L464.0,1493.8 L465.5,1494.7 L467.0,1494.7 L468.5,1493.4 L470.0,1494.3 L471.5,1494.5 L473.0,1494.2 L474.5,1493.9 L476.0,1493.5 L477.5,1493.6 L479.0,1493.3 L480.5,1493.0 L482.0,1494.0 L483.5,1493.4 L485.0,1494.3 L486.5,1493.0 L488.0,1494.5 L489.5,1494.1 L491.0,1494.5 L492.5,1494.4 L494.0,1494.4 L495.5,1493.9 L497.0,1492.8 L497.3,1494.1 L498.5,1493.1 L500.0,1493.3 L501.5,1494.0 L503.0,1493.7 L504.5,1493.5 L506.0,1494.4 L507.5,1493.8 L509.0,1493.3 L510.5,1493.1 L512.0,1494.2 L513.5,1493.5 L515.0,1494.0 L516.5,1493.3 L518.0,1493.0 L519.5,1493.5 L521.0,1494.0 L522.5,1492.9 L524.0,1494.0 L525.5,1494.2 L527.0,1493.9 L528.5,1494.0 L530.0,1492.5 L531.5,1493.6 L533.0,1494.0 L534.5,1492.5 L536.0,1492.9 L537.5,1492.8 L539.0,1493.3 L540.5,1493.1 L542.0,1493.1 L543.5,1493.6 L545.0,1492.2 L546.5,1492.3 L548.0,1492.4 L549.5,1492.4 L551.0,1492.2 L552.5,1493.9 L554.0,1493.6 L555.5,1492.2 L557.0,1492.9 L558.5,1492.6 L560.0,1492.5 L561.5,1492.6 L563.0,1493.1 L564.5,1493.0 L566.0,1492.5 L567.5,1492.2 L569.0,1492.4 L570.5,1492.0 L572.0,1492.8 L573.5,1493.0 L575.0,1492.4 L576.5,1491.8 L578.0,1492.0 L579.5,1492.3 L581.0,1492.7 L582.5,1493.0 L584.0,1492.2 L585.5,1493.0 L587.0,1492.6 L588.5,1492.2 L590.0,1492.1 L591.5,1492.3 L593.0,1492.6 L594.5,1492.1 L596.0,1492.6 L597.5,1492.1 L599.0,1491.7 L600.5,1492.2 L602.0,1492.5 L603.0,1491.3 L603.5,1492.0 L605.0,1491.9 L606.5,1492.7 L608.0,1492.8 L609.5,1491.8 L611.0,1492.7 L612.5,1492.5 L614.0,1491.5 L615.5,1491.8 L617.0,1491.2 L618.5,1492.4 L620.0,1492.1 L621.5,1492.5 L623.0,1492.3 L624.5,1492.0 L626.0,1492.1 L627.5,1491.8 L629.0,1490.9 L630.5,1491.7 L632.0,1490.7 L633.5,1490.9 L635.0,1492.0 L636.5,1490.6 L638.0,1490.7 L639.5,1490.7 L641.0,1492.0 L642.5,1490.8 L644.0,1490.4 L645.5,1491.9 L647.0,1490.5 L648.5,1491.8 L650.0,1491.5 L651.5,1491.7 L653.0,1491.9 L654.5,1491.2 L656.0,1491.5 L657.5,1490.1 L659.0,1491.4 L660.5,1490.9 L662.0,1491.2 L663.5,1490.1 L665.0,1491.2 L666.5,1491.5 L668.0,1489.8 L669.5,1490.3 L671.0,1490.6 L672.5,1491.1 L674.0,1490.0 L675.5,1489.8 L677.0,1489.9 L678.5,1490.5 L680.0,1490.7 L681.5,1490.0 L683.0,1489.8 L684.5,1489.8 L686.0,1489.7 L687.5,1489.8 L689.0,1489.1 L690.5,1489.8 L692.0,1490.6 L693.5,1489.5 L695.0,1490.0 L696.5,1488.9 L698.0,1489.8 L699.5,1489.9 L701.0,1489.7 L702.5,1489.3 L704.0,1489.2 L705.5,1489.4 L707.0,1489.8 L708.5,1488.4 L710.0,1488.2 L711.5,1489.3 L713.0,1489.6 L714.5,1488.8 L716.0,1488.6 L717.5,1489.0 L719.0,1488.0 L720.5,1488.0 L722.0,1487.8 L723.5,1488.4 L725.0,1487.9 L726.5,1487.7 L728.0,1488.4 L729.5,1488.8 L731.0,1487.5 L732.5,1488.2 L734.0,1487.6 L735.5,1488.3 L737.0,1487.7 L738.5,1487.1 L740.0,1486.9 L741.5,1486.5 L743.0,1487.2 L743.5,1487.0 L744.5,1486.6 L746.0,1486.8 L747.5,1486.6 L749.0,1487.4 L750.5,1486.1 L752.0,1487.6 L753.5,1486.5 L755.0,1486.6 L756.5,1486.3 L758.0,1486.9 L759.5,1486.7 L761.0,1486.2 L762.5,1485.9 L764.0,1486.2 L765.5,1486.4 L767.0,1485.4 L768.5,1485.9 L770.0,1486.2 L771.5,1485.2 L773.0,1484.7 L774.5,1484.5 L776.0,1485.3 L777.5,1485.1 L779.0,1485.5 L780.5,1485.2 L782.0,1483.9 L783.5,1483.7 L785.0,1483.7 L786.5,1483.5 L788.0,1484.3 L789.5,1484.4 L791.0,1484.4 L792.5,1483.1 L794.0,1484.1 L795.5,1482.9 L797.0,1483.0 L798.5,1483.4 L800.0,1482.1 L801.5,1482.0 L803.0,1483.2 L804.5,1482.1 L806.0,1482.1 L806.9,1482.4 L807.5,1482.6 L809.0,1481.2 L810.5,1481.7 L812.0,1481.7 L813.5,1481.7 L815.0,1481.1 L816.5,1481.6 L818.0,1482.1 L819.5,1481.0 L821.0,1481.1 L822.5,1480.2 L824.0,1480.4 L825.5,1480.9 L827.0,1479.8 L828.5,1481.0 L830.0,1480.9 L831.5,1479.3 L833.0,1480.7 L834.5,1479.5 L836.0,1480.1 L837.5,1479.9 L839.0,1478.9 L840.5,1479.5 L842.0,1479.3 L843.5,1479.4 L845.0,1478.3 L846.5,1479.0 L848.0,1479.3 L849.5,1478.6 L851.0,1478.2 L852.5,1477.3 L854.0,1477.8 L855.5,1477.4 L857.0,1477.9 L858.5,1477.7 L860.0,1477.4 L861.5,1476.5 L863.0,1477.2 L864.5,1477.0 L866.0,1476.1 L867.5,1477.2 L869.0,1476.6 L870.4,1475.5 L870.5,1477.0 L872.0,1475.4 L873.5,1475.6 L875.0,1476.1 L876.5,1475.8 L878.0,1475.5 L879.5,1475.6 L881.0,1475.1 L882.5,1474.7 L884.0,1474.3 L885.5,1473.9 L887.0,1474.9 L888.5,1474.9 L890.0,1474.3 L891.5,1474.5 L893.0,1473.7 L894.5,1473.4 L896.0,1473.4 L897.5,1474.2 L899.0,1472.5 L900.5,1473.2 L902.0,1472.6 L903.5,1473.4 L905.0,1472.5 L906.5,1472.3 L908.0,1472.2 L909.5,1472.3 L911.0,1472.6 L912.5,1471.7 L914.0,1472.4 L915.5,1471.0 L917.0,1471.1 L918.5,1470.6 L920.0,1470.5 L921.5,1471.5 L923.0,1471.3 L924.5,1470.2 L926.0,1470.0 L927.5,1470.3 L929.0,1470.7 L930.5,1470.7 L932.0,1470.4 L933.5,1470.0 L933.8,1469.2 L935.0,1469.5 L936.5,1469.0 L938.0,1469.4 L939.5,1469.3 L941.0,1468.5 L942.5,1468.5 L944.0,1469.3 L945.5,1467.8 L947.0,1469.0 L948.5,1469.0 L950.0,1469.0 L951.5,1467.8 L953.0,1467.9 L954.5,1467.8 L956.0,1467.8 L957.5,1468.2 L959.0,1467.5 L960.5,1466.7 L962.0,1467.5 L963.5,1466.7 L965.0,1466.8 L966.5,1466.8 L968.0,1465.4 L969.5,1466.6 L971.0,1466.3 L972.5,1465.8 L974.0,1465.7 L975.5,1465.5 L977.0,1464.8 L978.5,1465.3 L980.0,1464.3 L981.5,1464.9 L983.0,1465.1 L984.5,1464.6 L986.0,1464.6 L987.5,1465.2 L989.0,1464.9 L990.5,1463.4 L992.0,1464.5 L993.5,1464.1 L995.0,1462.9 L996.5,1463.3 L997.3,1463.0 L998.0,1462.7 L999.5,1463.4 L1001.0,1464.0 L1002.5,1462.8 L1004.0,1463.6 L1005.5,1463.2 L1007.0,1462.1 L1008.5,1463.3 L1010.0,1462.7 L1011.5,1463.2 L1013.0,1462.8 L1014.5,1462.7 L1016.0,1461.9 L1017.5,1462.6 L1019.0,1462.8 L1020.5,1462.5 L1022.0,1461.7 L1023.5,1462.1 L1025.0,1461.5 L1026.5,1460.8 L1028.0,1460.5 L1029.5,1460.5 L1031.0,1460.6 L1032.5,1460.4 L1034.0,1460.8 L1035.5,1461.1 L1037.0,1460.6 L1038.5,1460.3 L1039.6,1460.6 L1040.0,1459.9 L1041.5,1460.0 L1043.0,1460.4 L1044.5,1459.6 L1046.0,1459.0 L1047.5,1460.1 L1049.0,1459.6 L1050.5,1458.8 L1052.0,1458.6 L1053.5,1458.7 L1055.0,1458.6 L1056.5,1457.7 L1058.0,1457.1 L1059.5,1457.2 L1061.0,1457.9 L1062.5,1456.5 L1064.0,1456.7 L1065.5,1455.9 L1067.0,1455.6 L1068.5,1455.2 L1070.0,1455.2 L1071.3,1454.3 L1071.5,1453.9 L1073.0,1453.4 L1074.5,1452.7 L1076.0,1453.0 L1077.5,1450.2 L1079.0,1448.8 L1080.0,1449.9 L1080.5,1449.3 L1082.0,1448.6 L1083.5,1442.4 L1085.0,1440.7 L1086.5,1437.1 L1088.0,1431.7 L1089.5,1433.2 L1090.6,1427.6 L1091.0,1426.4 L1092.5,1426.0 L1094.0,1422.4 L1095.5,1422.7 L1097.0,1419.5 L1098.5,1416.6 L1100.0,1414.7 L1101.2,1416.9 L1101.5,1414.4 L1103.0,1415.7 L1104.5,1412.9 L1106.0,1414.2 L1107.5,1410.0 L1109.0,1408.8 L1110.5,1407.9 L1112.0,1409.7 L1113.5,1407.8 L1114.4,1405.7 L1115.0,1404.1 L1116.5,1406.0 L1118.0,1406.6 L1119.5,1403.8 L1121.0,1400.0 L1122.5,1399.2 L1124.0,1398.5 L1125.5,1397.7 L1127.0,1395.6 L1127.6,1395.1 L1128.5,1396.9 L1130.0,1395.4 L1131.5,1388.5 L1133.0,1388.7 L1134.5,1382.8 L1136.0,1381.5 L1136.8,1380.9 L1137.5,1380.1 L1139.0,1373.5 L1140.5,1373.0 L1142.0,1373.2 L1143.5,1374.4 L1145.0,1370.3 L1146.5,1371.7 L1148.0,1374.9 L1149.5,1371.5 L1150.1,1372.9 L1151.0,1372.0 L1152.5,1370.6 L1154.0,1368.2 L1155.4,1362.4 L1155.5,1365.6 L1157.0,1365.8 L1158.5,1367.3 L1159.1,1364.2 L1159.7,1369.0 L1160.3,1360.9 L1160.9,1358.9 L1161.5,1352.6 L1162.1,1358.0 L1162.7,1349.1 L1163.3,1341.9 L1163.9,1336.6 L1164.5,1342.4 L1165.1,1337.0 L1165.7,1335.9 L1166.3,1328.8 L1166.9,1330.1 L1167.5,1324.9 L1168.1,1334.9 L1168.7,1323.8 L1169.3,1331.6 L1169.9,1336.4 L1170.5,1334.3 L1171.1,1323.1 L1171.7,1323.5 L1172.3,1331.5 L1172.9,1325.6 L1173.5,1327.1 L1174.1,1324.4 L1174.7,1314.8 L1175.3,1320.3 L1175.9,1316.0 L1176.5,1308.2 L1177.1,1308.4 L1177.7,1303.3 L1178.3,1309.1 L1178.9,1318.8 L1179.5,1304.5 L1180.1,1312.6 L1180.7,1305.1 L1181.3,1304.8 L1181.9,1314.6 L1182.5,1307.7 L1183.1,1304.2 L1183.7,1305.2 L1184.3,1312.3 L1184.9,1309.5 L1185.5,1297.4 L1186.1,1298.4 L1186.7,1307.9 L1187.3,1292.1 L1187.9,1294.9 L1188.5,1289.7 L1189.1,1293.6 L1189.7,1288.9 L1190.3,1291.0 L1190.9,1286.3 L1191.5,1280.5 L1192.1,1280.9 L1192.7,1280.0 L1193.3,1293.5 L1193.9,1282.1 L1194.5,1279.1 L1195.1,1291.5 L1195.7,1274.8 L1196.3,1282.7 L1196.9,1265.0 L1197.5,1267.4 L1198.1,1259.2 L1198.7,1265.3 L1199.3,1257.4 L1199.9,1254.8 L1200.5,1256.3 L1201.1,1258.2 L1201.7,1249.3 L1202.3,1253.7 L1202.9,1251.0 L1203.5,1245.3 L1204.1,1257.6 L1204.7,1253.4 L1205.3,1256.6 L1205.9,1244.9 L1206.5,1248.6 L1207.1,1245.0 L1207.7,1247.3 L1208.3,1234.0 L1208.9,1236.4 L1209.5,1236.7 L1210.1,1227.7 L1210.7,1234.3 L1211.3,1236.7 L1211.9,1231.5 L1212.5,1235.9 L1213.1,1235.9 L1213.7,1230.0 L1214.3,1233.0 L1214.9,1244.7 L1215.5,1232.9 L1216.1,1231.9 L1216.7,1223.0 L1217.3,1222.0 L1217.9,1217.7 L1218.5,1227.1 L1219.1,1220.0 L1219.7,1218.8 L1220.3,1216.9 L1220.9,1207.1 L1221.5,1211.2 L1222.1,1204.0 L1222.7,1201.6 L1223.3,1210.3 L1223.9,1209.3 L1224.5,1209.8 L1225.1,1201.5 L1225.7,1206.0 L1226.3,1198.8 L1226.9,1206.8 L1227.5,1202.4 L1228.1,1187.7 L1228.7,1193.9 L1229.3,1176.4 L1229.9,1170.2 L1230.5,1176.3 L1231.1,1164.6 L1231.7,1164.4 L1232.3,1163.3 L1232.9,1151.2 L1233.5,1162.4 L1234.1,1154.5 L1234.7,1157.5 L1235.3,1156.4 L1235.9,1163.5 L1236.5,1164.0 L1237.1,1156.5 L1237.7,1153.6 L1238.3,1157.2 L1238.9,1159.2 L1239.5,1153.7 L1240.1,1155.0 L1240.7,1165.4 L1241.3,1164.3 L1241.9,1168.9 L1242.5,1168.9 L1243.1,1167.0 L1243.7,1158.3 L1244.3,1154.6 L1244.9,1157.0 L1245.5,1159.4 L1246.1,1159.6 L1246.7,1157.7 L1247.3,1151.1 L1247.9,1155.2 L1248.5,1141.4 L1249.1,1139.8 L1249.7,1141.1 L1250.3,1135.0 L1250.9,1124.4 L1251.5,1119.7 L1252.1,1121.7 L1252.7,1113.4 L1253.3,1114.0 L1253.9,1116.0 L1254.5,1115.7 L1255.1,1113.5 L1255.7,1112.8 L1256.3,1113.6 L1256.9,1116.5 L1257.5,1115.5 L1258.1,1118.5 L1258.7,1118.3 L1259.3,1120.1 L1259.9,1116.7 L1260.5,1118.7 L1261.1,1119.4 L1261.7,1122.5 L1262.3,1122.8 L1262.4,1121.6 L1263.8,1124.6 L1265.3,1123.3 L1266.8,1124.7 L1268.3,1124.9 L1269.8,1127.5 L1271.3,1126.5 L1272.8,1126.6 L1273.0,1125.9 L1274.3,1128.3 L1275.8,1130.5 L1277.3,1132.4 L1278.8,1135.2 L1280.3,1137.0 L1281.8,1137.5 L1283.3,1139.3 L1283.6,1141.6 L1284.8,1143.3 L1286.3,1144.5 L1287.8,1147.5 L1289.3,1148.9 L1290.8,1150.5 L1292.3,1152.7 L1293.8,1154.9 L1294.2,1157.0 L1295.3,1159.6 L1296.8,1162.5 L1298.3,1164.8 L1299.8,1168.5 L1301.3,1172.5 L1302.8,1176.0 L1304.3,1179.4 L1304.8,1180.3 L1305.8,1183.2 L1307.3,1186.9 L1308.8,1191.4 L1310.3,1197.0 L1311.8,1202.3 L1312.7,1204.4 L1313.3,1206.0 L1314.8,1210.7 L1316.3,1215.8 L1317.8,1221.4 L1319.3,1226.0 L1320.6,1231.5 L1320.8,1230.8 L1322.3,1236.8 L1323.8,1243.2 L1325.3,1249.1 L1326.8,1256.1 L1328.3,1262.2 L1328.5,1263.2 L1329.8,1267.8 L1331.3,1272.7 L1332.8,1279.6 L1334.3,1285.5 L1335.8,1291.4 L1336.5,1293.8 L1337.3,1297.8 L1338.8,1304.2 L1340.3,1308.9 L1341.8,1316.0 L1343.3,1321.4 L1344.4,1325.9 L1344.8,1328.1 L1346.3,1334.0 L1347.8,1339.2 L1349.3,1344.0 L1350.8,1350.7 L1352.3,1354.4 L1352.3,1354.8 L1353.8,1360.5 L1355.3,1364.2 L1356.8,1368.7 L1358.3,1374.2 L1359.8,1378.3 L1360.3,1378.5 L1361.3,1381.2 L1362.8,1384.7 L1364.3,1388.1 L1365.8,1391.8 L1367.3,1396.4 L1368.8,1397.9 L1370.3,1401.0 L1370.9,1402.1 L1371.8,1403.4 L1373.3,1406.7 L1374.8,1409.4 L1376.3,1411.8 L1377.8,1413.6 L1379.3,1415.9 L1380.8,1416.4 L1382.3,1418.7 L1383.8,1421.6 L1384.1,1420.3 L1385.3,1422.0 L1386.8,1423.9 L1388.3,1425.0 L1389.8,1427.0 L1391.3,1427.4 L1392.8,1429.0 L1394.3,1431.6 L1395.8,1431.3 L1397.3,1433.7 L1397.3,1432.4 L1398.8,1434.9 L1400.3,1435.4 L1401.8,1436.3 L1403.3,1436.3 L1404.8,1437.0 L1406.3,1439.1 L1407.8,1438.9 L1409.3,1439.7 L1410.8,1441.7 L1412.3,1442.5 L1413.8,1441.8 L1415.3,1444.2 L1415.8,1443.7 L1416.8,1443.9 L1418.3,1444.2 L1419.8,1445.4 L1421.3,1447.3 L1422.8,1446.8 L1424.3,1447.2 L1425.8,1448.0 L1427.3,1448.7 L1428.8,1449.7 L1430.3,1451.4 L1431.8,1450.4 L1433.3,1451.2 L1434.8,1453.0 L1436.3,1453.5 L1437.0,1453.7 L1437.8,1452.5 L1439.3,1453.0 L1440.8,1454.4 L1442.3,1453.8 L1443.8,1454.4 L1445.3,1453.9 L1446.8,1453.6 L1448.3,1454.4 L1449.8,1455.3 L1451.3,1455.5 L1452.8,1455.3 L1454.3,1455.3 L1455.8,1455.6 L1457.3,1455.7 L1458.8,1456.0 L1460.3,1456.8 L1461.8,1455.9 L1463.3,1456.9 L1463.4,1457.6 L1464.8,1457.7 L1466.3,1456.9 L1467.8,1458.8 L1469.3,1459.0 L1470.8,1458.3 L1472.3,1459.0 L1473.8,1459.5 L1475.3,1459.7 L1476.8,1461.9 L1478.3,1461.4 L1479.8,1462.8 L1481.3,1461.9 L1482.8,1462.1 L1484.3,1464.0 L1484.5,1463.9 L1485.8,1464.6 L1487.3,1464.3 L1488.8,1464.3 L1490.3,1465.1 L1491.8,1464.1 L1493.3,1465.2 L1494.8,1465.3 L1496.3,1465.0 L1497.8,1466.1 L1499.3,1465.8 L1500.8,1466.4 L1502.3,1466.4 L1503.8,1466.5 L1505.3,1466.8 L1506.8,1467.5 L1508.3,1468.4 L1509.8,1468.5 L1511.3,1468.6 L1512.8,1468.8 L1514.3,1468.0 L1515.8,1469.5 L1516.3,1468.3 L1517.3,1468.2 L1518.8,1469.1 L1520.3,1469.7 L1521.8,1469.3 L1523.3,1470.1 L1524.8,1469.6 L1526.3,1471.1 L1527.8,1470.4 L1529.3,1470.7 L1530.8,1471.0 L1532.3,1471.9 L1533.8,1472.3 L1535.3,1471.7 L1536.8,1471.7 L1538.3,1472.3 L1539.8,1471.5 L1541.3,1472.3 L1542.7,1473.2 L1542.8,1473.1 L1544.3,1472.0 L1545.8,1473.6 L1547.3,1472.9 L1548.8,1474.2 L1550.3,1473.2 L1551.8,1473.1 L1553.3,1473.9 L1554.8,1474.6 L1556.3,1474.0 L1557.8,1474.9 L1559.3,1474.8 L1560.8,1474.3 L1562.3,1474.3 L1563.8,1474.8 L1565.3,1474.8 L1566.8,1474.9 L1568.3,1475.5 L1569.2,1476.0 L1569.8,1475.5 L1571.3,1474.9 L1572.8,1475.1 L1574.3,1475.5 L1575.8,1476.1 L1577.3,1475.4 L1578.8,1475.4 L1580.3,1476.0 L1581.8,1476.1 L1583.3,1475.7 L1584.8,1476.8 L1586.3,1477.6 L1587.8,1477.1 L1589.3,1477.6 L1590.8,1477.8 L1592.3,1478.0 L1593.8,1478.3 L1595.3,1477.5 L1596.8,1478.1 L1598.3,1477.2 L1599.8,1478.7 L1601.3,1477.9 L1602.8,1478.1 L1604.3,1479.0 L1605.8,1478.0 L1607.3,1477.9 L1608.8,1479.1 L1610.3,1478.8 L1611.5,1478.0 L1611.8,1477.9 L1613.3,1478.5 L1614.8,1478.0 L1616.3,1479.5 L1617.8,1478.4 L1619.3,1478.6 L1620.8,1478.8 L1622.3,1479.1 L1623.8,1479.0 L1625.3,1479.4 L1626.8,1479.5 L1628.3,1479.2 L1629.8,1478.6 L1631.3,1480.3 L1632.7,1479.8 L1632.8,1478.8 L1634.3,1479.5 L1635.8,1480.3 L1637.3,1480.9 L1638.8,1479.5 L1640.3,1479.7 L1641.8,1480.8 L1643.3,1481.0 L1644.8,1482.2 L1646.3,1482.3 L1647.8,1481.7 L1649.3,1482.0 L1650.8,1482.5 L1652.3,1483.2 L1653.8,1482.0 L1653.8,1482.3 L1655.3,1481.8 L1656.8,1482.7 L1658.3,1481.6 L1659.8,1483.2 L1661.3,1482.5 L1662.8,1482.5 L1664.3,1481.6 L1665.8,1481.8 L1667.3,1482.2 L1668.8,1482.9 L1670.3,1482.3 L1671.8,1481.8 L1673.3,1483.0 L1674.8,1482.3 L1676.3,1482.1 L1677.8,1481.4 L1679.3,1481.6 L1680.8,1482.6 L1682.3,1481.2 L1683.8,1481.8 L1685.3,1482.0 L1686.8,1481.5 L1688.3,1482.2 L1689.8,1482.4 L1691.3,1482.3 L1692.8,1482.0 L1694.3,1481.1 L1695.8,1480.8 L1696.1,1481.5 L1697.3,1481.3 L1698.8,1481.2 L1700.3,1482.5 L1701.8,1481.5 L1703.3,1482.9 L1704.8,1483.4 L1706.3,1482.2 L1707.8,1484.0 L1709.3,1483.4 L1710.8,1483.5 L1712.3,1483.8 L1713.8,1484.0 L1715.3,1485.2 L1716.8,1485.4 L1718.3,1486.6 L1719.8,1486.9 L1721.3,1485.8 L1722.8,1486.7 L1724.3,1486.9 L1725.8,1486.8 L1727.3,1487.0 L1728.8,1487.2 L1730.0,1487.9 L1730.3,1487.3 L1731.8,1486.8 L1733.3,1486.9 L1734.8,1487.1 L1736.3,1487.0 L1737.8,1486.2 L1739.3,1486.7 L1740.8,1485.5 L1742.3,1486.1 L1743.8,1485.8 L1745.3,1484.9 L1746.8,1485.9 L1746.9,1485.2 L1748.3,1485.6 L1749.8,1486.0 L1751.3,1486.6 L1752.8,1486.8 L1754.3,1486.7 L1755.8,1488.6 L1757.3,1489.2 L1758.8,1488.7 L1759.6,1488.9 L1760.3,1488.4 L1761.8,1489.5 L1763.3,1489.0 L1764.8,1488.0 L1766.3,1489.0 L1767.8,1489.1 L1769.3,1487.7 L1770.8,1488.6 L1772.3,1487.5 L1773.8,1486.6 L1775.3,1487.3 L1776.8,1486.4 L1778.3,1486.8 L1779.8,1486.2 L1781.3,1485.1 L1782.8,1485.5 L1784.3,1485.8 L1785.8,1484.9 L1787.3,1484.8 L1788.8,1485.1 L1790.3,1484.2 L1791.8,1484.1 L1793.3,1484.1 L1794.8,1484.5 L1796.3,1483.3 L1797.6,1483.1 L1797.8,1484.3 L1799.3,1484.0 L1800.8,1483.6 L1802.3,1484.9 L1803.8,1485.2 L1805.3,1484.9 L1806.8,1486.1 L1808.3,1486.2 L1809.8,1486.5 L1811.3,1486.1 L1812.8,1486.0 L1814.3,1487.6 L1815.8,1488.1 L1817.3,1487.7 L1818.8,1488.3 L1820.3,1488.7 L1821.8,1488.3 L1823.0,1489.2 L1823.3,1488.9 L1824.8,1488.7 L1826.3,1488.2 L1827.8,1489.1 L1829.3,1488.7 L1830.8,1489.5 L1832.3,1488.5 L1833.8,1489.0 L1835.3,1488.6 L1836.8,1489.0 L1838.3,1489.4 L1839.8,1488.6 L1841.3,1488.5 L1842.8,1489.3 L1844.3,1488.8 L1845.8,1489.4 L1847.3,1488.8 L1848.8,1488.7 L1850.3,1489.5 L1851.8,1490.2 L1853.3,1490.1 L1854.8,1489.5 L1856.3,1489.3 L1857.8,1488.8 L1859.3,1489.2 L1860.8,1489.3 L1862.3,1490.4 L1863.8,1489.0 L1865.3,1490.5 L1865.3,1489.7 L1866.8,1489.6 L1868.3,1489.3 L1869.8,1490.6 L1871.3,1489.3 L1872.8,1490.0 L1874.3,1490.0 L1875.8,1489.5 L1877.3,1489.5 L1878.8,1491.0 L1880.3,1490.7 L1881.8,1490.6 L1883.3,1491.0 L1884.8,1489.5 L1886.3,1490.7 L1887.8,1490.8 L1889.3,1489.9 L1890.8,1490.3 L1892.3,1491.3 L1893.8,1490.1 L1895.3,1491.0 L1896.8,1489.9 L1898.3,1490.8 L1899.2,1490.1 L1899.8,1490.5 L1901.3,1490.1 L1902.8,1490.8 L1904.3,1490.3 L1905.8,1489.4 L1907.3,1489.3 L1908.8,1488.4 L1910.3,1488.6 L1911.8,1487.1 L1913.3,1487.2 L1914.8,1486.8 L1916.3,1486.1 L1917.8,1485.3 L1919.3,1485.3 L1920.3,1486.2 L1920.8,1485.4 L1922.3,1486.5 L1923.8,1486.3 L1925.3,1487.5 L1926.8,1487.8 L1928.3,1488.2 L1929.8,1488.2 L1931.3,1488.2 L1932.8,1489.7 L1934.3,1490.7 L1935.8,1491.5 L1937.3,1490.7 L1938.8,1490.9 L1940.3,1492.6 L1941.5,1492.2 L1941.8,1491.8 L1943.3,1492.2 L1944.8,1491.2 L1946.3,1491.8 L1947.8,1492.0 L1949.3,1491.9 L1950.8,1491.1 L1952.3,1491.0 L1953.8,1491.8 L1955.3,1492.3 L1956.8,1490.9 L1958.3,1490.6 L1959.8,1490.7 L1961.3,1491.9 L1962.8,1491.1 L1964.3,1491.2 L1965.8,1492.1 L1967.3,1491.3 L1968.8,1490.6 L1970.3,1491.4 L1971.8,1490.1 L1973.3,1490.5 L1974.8,1491.2 L1976.3,1490.2 L1977.8,1489.9 L1979.3,1490.7 L1980.8,1490.4 L1982.3,1491.5 L1983.8,1489.9 L1985.3,1491.1 L1986.8,1490.3 L1988.3,1491.1 L1989.8,1490.4 L1991.3,1490.8 L1992.2,1490.2 L1992.8,1490.0 L1994.3,1490.4 L1995.8,1491.0 L1997.3,1490.2 L1998.8,1490.0 L2000.3,1490.4 L2001.8,1489.8 L2003.3,1490.2 L2004.8,1490.7 L2006.3,1490.7 L2007.8,1490.8 L2009.3,1490.3 L2010.8,1489.9 L2012.3,1489.9 L2013.8,1490.5 L2015.3,1490.3 L2016.8,1491.0 L2018.3,1490.5 L2019.8,1491.4 L2021.3,1491.1 L2022.8,1491.3 L2024.3,1491.5 L2025.8,1491.1 L2027.3,1491.0 L2028.8,1490.8 L2030.3,1490.4 L2031.8,1491.8 L2033.3,1491.3 L2034.8,1490.6 L2036.3,1492.2 L2037.8,1491.6 L2039.3,1491.7 L2040.8,1491.4 L2042.3,1490.9 L2043.8,1492.5 L2045.3,1491.1 L2046.8,1491.5 L2048.3,1492.7 L2049.8,1491.1 L2051.3,1491.8 L2052.8,1491.8 L2054.3,1491.4 L2055.8,1492.7 L2057.3,1491.8 L2058.8,1491.1 L2060.3,1492.0 L2061.8,1491.2 L2063.3,1492.5 L2064.8,1492.8 L2066.3,1492.9 L2067.8,1491.3 L2069.3,1492.5 L2070.8,1491.8 L2072.3,1492.1 L2073.8,1491.8 L2075.3,1491.8 L2076.8,1491.5 L2076.8,1492.4 L2078.3,1491.4 L2079.8,1492.9 L2081.3,1491.1 L2082.8,1492.5 L2084.3,1490.9 L2085.8,1490.5 L2087.3,1491.4 L2088.8,1490.8 L2090.3,1490.9 L2091.8,1490.2 L2093.3,1490.2 L2094.8,1489.1 L2096.3,1490.1 L2097.8,1489.7 L2098.0,1490.5 L2099.3,1488.8 L2100.8,1489.0 L2102.3,1490.1 L2103.8,1490.6 L2105.3,1489.8 L2106.8,1490.5 L2108.3,1490.3 L2109.8,1490.1 L2111.3,1490.4 L2112.8,1490.8 L2114.3,1490.0 L2115.8,1490.6 L2117.3,1491.6 L2118.8,1490.9 L2120.3,1491.5 L2121.8,1491.3 L2123.3,1491.6 L2124.8,1492.3 L2126.3,1492.7 L2127.8,1493.2 L2129.3,1492.5 L2130.8,1492.1 L2132.3,1492.5 L2133.8,1492.1 L2135.3,1492.5 L2136.8,1493.2 L2138.3,1493.3 L2139.8,1492.6 L2140.3,1492.5 L2141.3,1492.4 L2142.8,1492.5 L2144.3,1493.1 L2145.8,1492.6 L2147.3,1493.8 L2148.8,1493.2 L2150.3,1492.8 L2151.8,1492.9 L2153.3,1492.2 L2154.8,1493.4 L2156.3,1493.4 L2157.8,1492.7 L2159.3,1493.3 L2160.8,1492.4 L2162.3,1492.3 L2163.8,1492.2 L2165.3,1492.1 L2166.8,1492.8 L2168.3,1492.8 L2169.8,1492.8 L2171.3,1491.6 L2172.8,1492.7 L2174.3,1492.1 L2175.8,1491.8 L2177.3,1491.9 L2178.8,1491.7 L2180.3,1491.7 L2181.8,1491.5 L2183.0,1491.4" stroke="#f00" stroke-width="12.5"/>
<path d="M185.0,1028.2 L186.5,1028.2 L188.0,1027.6 L189.5,1027.6 L191.0,1028.7 L192.5,1028.5 L194.0,1028.4 L195.5,1027.9 L197.0,1028.3 L198.5,1028.3 L200.0,1028.3 L201.5,1027.7 L203.0,1028.1 L204.5,1028.0 L206.0,1028.5 L207.5,1028.8 L209.0,1028.8 L210.5,1028.2 L212.0,1028.0 L213.5,1027.8 L215.0,1027.5 L216.5,1027.4 L218.0,1028.1 L219.5,1027.8 L221.0,1027.9 L222.5,1028.6 L224.0,1028.1 L225.5,1028.2 L227.0,1027.7 L228.5,1027.4 L230.0,1027.8 L231.5,1027.6 L233.0,1028.1 L234.5,1028.8 L236.0,1028.3 L237.5,1027.6 L239.0,1028.6 L240.5,1028.5 L242.0,1028.4 L243.5,1028.6 L245.0,1028.4 L246.5,1028.4 L248.0,1027.8 L249.5,1028.7 L251.0,1028.7 L252.5,1027.5 L254.0,1028.4 L255.5,1028.3 L257.0,1027.9 L258.5,1028.0 L260.0,1028.0 L261.5,1028.6 L263.0,1028.0 L264.5,1028.4 L266.0,1027.8 L267.5,1028.5 L269.0,1028.5 L270.5,1027.9 L272.0,1028.0 L273.5,1028.5 L275.0,1028.2 L276.5,1027.9 L278.0,1027.5 L279.5,1027.7 L281.0,1028.2 L282.5,1027.4 L284.0,1028.5 L285.5,1027.6 L287.0,1028.5 L288.5,1027.6 L290.0,1028.5 L291.5,1028.2 L293.0,1027.9 L294.5,1027.9 L296.0,1028.1 L297.5,1028.0 L299.0,1027.6 L300.5,1027.4 L302.0,1027.9 L303.5,1028.4 L305.0,1028.0 L306.5,1027.2 L308.0,1028.3 L309.5,1028.1 L311.0,1028.4 L312.5,1027.4 L314.0,1028.1 L315.5,1027.2 L317.0,1028.0 L318.5,1027.5 L320.0,1027.4 L321.5,1028.3 L323.0,1027.2 L324.5,1027.8 L326.0,1028.2 L327.5,1027.4 L329.0,1027.3 L330.5,1028.3 L332.0,1027.6 L333.5,1028.0 L335.0,1027.1 L336.5,1027.5 L338.0,1027.2 L339.5,1027.9 L341.0,1027.1 L342.5,1028.3 L344.0,1027.0 L345.5,1028.0 L347.0,1027.0 L348.5,1027.3 L350.0,1028.1 L351.5,1027.2 L353.0,1027.2 L354.5,1027.9 L356.0,1027.5 L357.5,1027.0 L359.0,1028.3 L360.5,1027.1 L362.0,1027.0 L363.5,1027.4 L365.0,1027.8 L366.5,1027.9 L368.0,1027.0 L369.5,1027.4 L371.0,1026.9 L372.5,1027.5 L374.0,1027.9 L375.5,1027.9 L377.0,1028.1 L378.5,1027.9 L380.0,1028.1 L381.5,1027.8 L383.0,1027.5 L384.5,1027.1 L386.0,1027.7 L387.5,1027.3 L389.0,1027.0 L390.5,1027.4 L391.5,1028.0 L392.0,1027.0 L393.5,1027.6 L395.0,1027.3 L396.5,1027.5 L398.0,1027.0 L399.5,1028.1 L401.0,1027.1 L402.5,1027.6 L404.0,1027.3 L405.5,1026.8 L407.0,1027.5 L408.5,1026.9 L410.0,1026.8 L411.5,1026.8 L413.0,1026.9 L414.5,1026.8 L416.0,1027.6 L417.5,1027.4 L419.0,1028.1 L420.5,1028.0 L422.0,1028.1 L423.5,1027.0 L425.0,1027.3 L426.5,1027.0 L428.0,1027.5 L429.5,1027.5 L431.0,1027.8 L432.5,1027.6 L434.0,1027.0 L435.5,1027.2 L437.0,1027.4 L438.5,1026.6 L440.0,1026.7 L441.5,1027.2 L443.0,1026.8 L444.5,1027.6 L446.0,1026.9 L447.5,1026.7 L449.0,1026.8 L450.5,1026.9 L452.0,1026.9 L453.5,1027.3 L455.0,1027.2 L456.5,1027.0 L458.0,1027.4 L459.5,1026.8 L461.0,1027.8 L462.5,1027.9 L464.0,1027.5 L465.5,1027.1 L467.0,1027.2 L468.5,1027.3 L470.0,1026.6 L471.5,1027.1 L473.0,1027.2 L474.5,1026.7 L476.0,1026.6 L477.5,1027.6 L479.0,1027.0 L480.5,1027.2 L482.0,1027.7 L483.5,1027.3 L485.0,1026.8 L486.5,1027.8 L488.0,1026.9 L489.5,1026.4 L491.0,1027.4 L492.5,1026.5 L494.0,1026.8 L495.5,1027.6 L497.0,1027.3 L498.5,1026.4 L500.0,1027.0 L501.5,1026.9 L503.0,1027.0 L504.5,1026.6 L506.0,1027.2 L507.5,1026.4 L509.0,1026.7 L510.5,1026.8 L512.0,1027.6 L513.5,1026.4 L515.0,1027.3 L516.5,1026.5 L518.0,1027.1 L519.5,1026.8 L521.0,1026.9 L522.5,1027.3 L524.0,1026.8 L525.5,1026.4 L527.0,1026.4 L528.5,1026.3 L530.0,1027.4 L531.5,1027.1 L533.0,1027.5 L534.5,1027.2 L536.0,1026.2 L537.5,1027.1 L539.0,1027.3 L540.5,1027.2 L542.0,1026.9 L543.5,1026.6 L545.0,1026.8 L546.5,1027.2 L548.0,1026.5 L549.5,1026.9 L551.0,1026.8 L552.5,1027.4 L554.0,1027.2 L555.5,1027.4 L557.0,1027.2 L558.5,1026.5 L560.0,1026.4 L561.5,1026.7 L563.0,1026.4 L564.5,1026.6 L566.0,1027.0 L567.5,1027.3 L569.0,1026.8 L570.5,1027.1 L572.0,1026.1 L573.5,1026.5 L575.0,1027.4 L576.5,1026.2 L578.0,1026.5 L579.5,1026.0 L581.0,1026.1 L582.5,1027.2 L584.0,1027.3 L585.5,1026.8 L587.0,1026.1 L588.5,1026.3 L590.0,1026.2 L591.5,1026.8 L593.0,1026.8 L594.5,1026.5 L596.0,1026.6 L597.5,1026.0 L599.0,1026.6 L600.5,1027.1 L602.0,1026.9 L603.0,1025.9 L603.5,1026.5 L605.0,1026.8 L606.5,1026.1 L608.0,1027.0 L609.5,1026.4 L611.0,1026.7 L612.5,1026.3 L614.0,1027.1 L615.5,1026.8 L617.0,1026.5 L618.5,1025.9 L620.0,1026.3 L621.5,1025.7 L623.0,1026.5 L624.5,1026.9 L626.0,1025.9 L627.5,1026.3 L629.0,1026.3 L630.5,1026.2 L632.0,1026.6 L633.5,1026.9 L635.0,1026.5 L636.5,1026.2 L638.0,1026.9 L639.5,1026.0 L641.0,1026.5 L642.5,1026.4 L644.0,1026.5 L645.5,1026.7 L647.0,1025.8 L648.5,1026.3 L650.0,1026.0 L651.5,1026.3 L653.0,1026.8 L654.5,1026.3 L656.0,1025.4 L657.5,1026.0 L659.0,1026.3 L660.5,1026.6 L662.0,1026.2 L663.5,1026.4 L665.0,1025.3 L666.5,1026.6 L668.0,1026.3 L669.5,1026.1 L671.0,1026.5 L672.5,1026.4 L674.0,1025.3 L675.5,1026.3 L677.0,1026.2 L678.5,1025.4 L680.0,1026.1 L681.5,1025.9 L683.0,1025.3 L684.5,1026.2 L686.0,1025.2 L687.5,1025.9 L689.0,1025.6 L690.5,1025.3 L692.0,1025.7 L693.5,1025.6 L695.0,1025.2 L696.5,1026.2 L698.0,1025.0 L699.5,1024.9 L701.0,1025.5 L702.5,1026.0 L704.0,1025.7 L705.5,1025.8 L707.0,1025.4 L708.5,1025.7 L710.0,1025.2 L711.5,1025.0 L713.0,1025.3 L714.5,1024.7 L716.0,1024.7 L717.5,1025.6 L719.0,1024.8 L720.5,1025.6 L722.0,1025.6 L723.5,1025.0 L725.0,1025.4 L726.5,1025.5 L728.0,1025.6 L729.5,1024.6 L731.0,1024.6 L732.5,1024.8 L734.0,1024.9 L735.5,1024.7 L737.0,1024.2 L738.5,1025.0 L740.0,1025.5 L741.5,1024.7 L743.0,1024.9 L743.5,1024.6 L744.5,1024.7 L746.0,1025.3 L747.5,1024.5 L749.0,1024.9 L750.5,1024.6 L752.0,1024.7 L753.5,1025.2 L755.0,1024.0 L756.5,1025.0 L758.0,1024.2 L759.5,1024.7 L761.0,1024.9 L762.5,1024.6 L764.0,1024.2 L765.5,1024.8 L767.0,1023.7 L768.5,1024.5 L770.0,1024.1 L771.5,1024.2 L773.0,1024.7 L774.5,1024.5 L776.0,1024.3 L777.5,1023.8 L779.0,1023.6 L780.5,1023.9 L782.0,1023.6 L783.5,1023.6 L785.0,1024.5 L786.5,1023.3 L788.0,1024.2 L789.5,1023.5 L791.0,1023.5 L792.5,1023.4 L794.0,1023.0 L795.5,1023.5 L797.0,1023.0 L798.5,1023.3 L800.0,1023.1 L801.5,1023.9 L803.0,1023.8 L804.5,1023.1 L806.0,1023.3 L806.9,1023.7 L807.5,1022.8 L809.0,1022.5 L810.5,1022.6 L812.0,1022.4 L813.5,1023.1 L815.0,1022.5 L816.5,1022.4 L818.0,1023.0 L819.5,1022.1 L821.0,1022.8 L822.5,1022.5 L824.0,1022.0 L825.5,1022.5 L827.0,1021.8 L828.5,1022.4 L830.0,1022.4 L831.5,1021.7 L833.0,1021.8 L834.5,1022.1 L836.0,1021.6 L837.5,1021.5 L839.0,1021.6 L840.5,1021.6 L842.0,1021.2 L843.5,1021.4 L845.0,1020.3 L846.5,1020.6 L848.0,1020.5 L849.5,1020.0 L851.0,1019.9 L852.5,1019.5 L854.0,1020.4 L855.5,1019.4 L857.0,1019.5 L858.5,1019.9 L860.0,1018.8 L861.5,1019.7 L863.0,1018.4 L864.5,1018.2 L866.0,1018.5 L867.5,1018.4 L869.0,1019.0 L870.4,1018.8 L870.5,1018.7 L872.0,1018.1 L873.5,1018.1 L875.0,1017.5 L876.5,1018.2 L878.0,1017.4 L879.5,1017.1 L881.0,1017.5 L882.5,1016.6 L884.0,1016.7 L885.5,1017.4 L887.0,1016.1 L888.5,1016.0 L890.0,1015.9 L891.5,1015.8 L893.0,1015.9 L894.5,1015.5 L896.0,1015.4 L897.5,1015.1 L899.0,1014.9 L900.5,1015.3 L902.0,1014.7 L903.5,1014.6 L905.0,1015.0 L906.5,1013.8 L908.0,1013.7 L909.5,1014.5 L911.0,1013.8 L912.5,1014.1 L914.0,1013.0 L915.5,1013.4 L917.0,1013.7 L918.5,1012.8 L920.0,1013.2 L921.5,1012.8 L923.0,1012.3 L924.5,1013.0 L926.0,1012.0 L927.5,1011.9 L929.0,1012.0 L930.5,1011.4 L932.0,1012.0 L933.5,1011.5 L933.8,1011.4 L935.0,1011.2 L936.5,1011.7 L938.0,1011.6 L939.5,1011.2 L941.0,1010.5 L942.5,1010.3 L944.0,1010.3 L945.5,1009.5 L947.0,1009.4 L948.5,1010.5 L950.0,1009.2 L951.5,1010.2 L953.0,1009.7 L954.5,1009.9 L956.0,1008.6 L957.5,1008.8 L959.0,1009.3 L960.5,1008.1 L962.0,1008.1 L963.5,1008.3 L965.0,1007.9 L966.5,1007.7 L968.0,1008.3 L969.5,1007.4 L971.0,1008.4 L972.5,1007.8 L974.0,1006.9 L975.5,1007.9 L977.0,1006.8 L978.5,1007.0 L980.0,1007.0 L981.5,1006.2 L983.0,1006.6 L984.5,1005.8 L986.0,1005.8 L987.5,1006.7 L989.0,1006.4 L990.5,1005.8 L992.0,1005.8 L993.5,1005.9 L995.0,1004.7 L996.5,1005.0 L997.3,1004.4 L998.0,1004.3 L999.5,1004.1 L1001.0,1004.0 L1002.5,1003.6 L1004.0,1003.6 L1005.5,1003.5 L1007.0,1003.7 L1008.5,1003.7 L1010.0,1003.6 L1011.5,1003.0 L1013.0,1002.5 L1014.5,1002.8 L1016.0,1001.5 L1017.5,1001.1 L1019.0,1001.8 L1020.5,1001.3 L1022.0,1000.4 L1022.7,1000.5 L1023.5,1000.3 L1025.0,1000.3 L1026.5,1000.0 L1028.0,999.5 L1028.5,999.9 L1029.5,997.6 L1031.0,990.8 L1032.2,988.0 L1032.5,987.9 L1034.0,993.2 L1035.5,998.7 L1036.0,998.1 L1037.0,998.6 L1038.5,997.9 L1039.6,997.3 L1040.0,996.3 L1041.5,996.2 L1043.0,994.7 L1044.5,993.7 L1046.0,993.2 L1047.5,992.4 L1049.0,991.7 L1050.5,991.3 L1052.0,990.8 L1053.5,990.1 L1055.0,989.1 L1056.5,989.8 L1058.0,989.4 L1059.5,988.9 L1060.7,988.1 L1061.0,987.2 L1062.5,986.7 L1064.0,985.6 L1065.5,985.2 L1067.0,983.8 L1068.5,982.0 L1070.0,981.6 L1071.5,980.1 L1073.0,978.4 L1074.5,976.2 L1076.0,974.4 L1077.5,972.7 L1079.0,972.0 L1080.0,970.8 L1080.5,969.7 L1082.0,969.0 L1083.5,967.0 L1085.0,965.1 L1086.5,963.4 L1088.0,962.2 L1089.5,960.1 L1091.0,958.7 L1092.5,956.2 L1094.0,955.3 L1095.5,952.9 L1095.9,953.4 L1097.0,951.1 L1098.5,949.6 L1100.0,948.1 L1101.5,946.2 L1103.0,944.6 L1104.5,943.4 L1106.0,940.6 L1107.5,939.7 L1109.0,937.8 L1110.5,936.1 L1111.7,934.2 L1112.0,933.9 L1113.5,932.0 L1115.0,930.4 L1116.5,928.4 L1118.0,926.6 L1119.5,925.2 L1121.0,923.0 L1122.5,921.6 L1124.0,919.9 L1125.0,918.0 L1125.5,917.1 L1127.0,915.9 L1128.5,914.4 L1130.0,910.7 L1131.5,909.4 L1133.0,907.2 L1134.5,905.5 L1135.5,903.2 L1136.0,901.1 L1137.5,897.9 L1139.0,897.1 L1140.5,892.1 L1142.0,887.8 L1143.5,888.0 L1145.0,882.2 L1146.1,880.6 L1146.5,879.9 L1148.0,876.8 L1149.5,876.3 L1151.0,871.9 L1152.5,869.8 L1154.0,867.2 L1155.5,866.6 L1156.7,860.6 L1157.0,862.8 L1158.5,858.0 L1160.0,855.5 L1161.5,855.0 L1163.0,851.3 L1164.5,847.2 L1166.0,847.1 L1167.3,846.4 L1167.5,844.7 L1169.0,841.4 L1170.5,840.2 L1172.0,838.1 L1173.5,831.8 L1175.0,829.8 L1176.5,830.4 L1177.8,827.9 L1178.0,824.1 L1179.5,823.8 L1181.0,821.9 L1182.5,817.7 L1184.0,815.6 L1185.5,812.4 L1187.0,808.9 L1187.1,808.6 L1188.5,806.3 L1190.0,807.6 L1191.5,803.7 L1193.0,804.7 L1194.5,802.2 L1196.0,801.0 L1197.5,802.0 L1197.7,799.0 L1199.0,797.8 L1200.5,795.5 L1202.0,792.8 L1203.5,790.8 L1205.0,790.1 L1206.5,789.2 L1208.0,783.3 L1208.2,787.0 L1209.5,783.5 L1211.0,777.9 L1212.5,778.1 L1214.0,773.5 L1215.5,770.7 L1216.2,767.1 L1217.0,767.0 L1218.5,762.9 L1220.0,759.6 L1221.5,753.8 L1222.8,750.2 L1223.0,749.7 L1224.5,742.0 L1226.0,735.6 L1227.5,732.1 L1229.0,725.0 L1229.4,723.7 L1230.5,720.8 L1232.0,716.8 L1233.5,712.3 L1235.0,707.5 L1236.5,703.9 L1237.3,697.1 L1238.0,696.8 L1239.5,689.0 L1241.0,686.1 L1242.5,679.5 L1243.9,673.5 L1244.0,674.0 L1245.5,671.3 L1247.0,666.2 L1248.5,664.6 L1250.0,658.0 L1251.5,654.2 L1251.9,656.0 L1253.0,651.7 L1254.5,645.5 L1256.0,645.1 L1257.5,639.5 L1259.0,639.1 L1259.8,636.2 L1260.5,635.7 L1262.0,633.6 L1263.5,629.4 L1265.0,629.4 L1266.5,622.9 L1268.0,622.6 L1269.1,623.9 L1269.5,619.6 L1271.0,621.3 L1272.5,621.5 L1274.0,618.9 L1275.5,618.6 L1277.0,614.2 L1278.3,616.2 L1278.5,616.5 L1280.0,615.7 L1281.5,615.6 L1283.0,617.2 L1284.5,614.6 L1286.0,614.3 L1286.2,616.3 L1287.5,618.0 L1289.0,618.4 L1290.5,619.4 L1292.0,620.2 L1293.5,623.7 L1294.2,622.5 L1295.0,624.1 L1296.5,627.5 L1298.0,630.2 L1299.5,632.3 L1301.0,636.2 L1302.1,637.7 L1302.5,639.3 L1304.0,642.7 L1305.5,647.8 L1307.0,652.9 L1308.5,658.2 L1310.0,664.5 L1311.5,670.5 L1313.0,676.5 L1314.5,683.7 L1316.0,689.8 L1316.7,693.7 L1317.5,697.6 L1319.0,705.0 L1320.5,713.6 L1322.0,720.5 L1323.3,728.0 L1323.5,729.1 L1325.0,737.2 L1326.5,746.4 L1328.0,754.3 L1329.5,762.8 L1329.9,765.0 L1331.0,771.5 L1332.5,781.1 L1334.0,790.0 L1335.2,797.0 L1335.5,798.1 L1337.0,808.0 L1338.5,816.6 L1340.0,826.0 L1340.4,827.8 L1341.5,835.1 L1343.0,843.9 L1344.5,851.5 L1345.7,857.7 L1346.0,858.8 L1347.5,866.7 L1349.0,874.1 L1350.5,881.2 L1352.0,887.8 L1352.3,889.0 L1353.5,894.9 L1355.0,901.5 L1356.5,907.3 L1358.0,912.6 L1359.0,915.1 L1359.5,917.1 L1361.0,922.4 L1362.5,926.9 L1364.0,930.3 L1365.5,934.0 L1366.9,937.3 L1367.0,936.9 L1368.5,940.6 L1370.0,942.9 L1371.5,946.2 L1373.0,948.2 L1374.5,950.8 L1376.0,952.7 L1376.1,952.8 L1377.5,954.6 L1379.0,957.2 L1380.5,958.8 L1382.0,960.0 L1383.5,961.7 L1385.0,963.7 L1386.5,964.9 L1386.7,964.9 L1388.0,966.4 L1389.5,966.4 L1391.0,968.2 L1392.5,969.3 L1394.0,970.1 L1395.5,971.7 L1397.0,972.7 L1398.5,972.8 L1400.0,974.0 L1401.5,975.0 L1402.6,975.6 L1403.0,975.3 L1404.5,976.8 L1406.0,977.0 L1407.5,977.6 L1409.0,979.1 L1410.5,979.9 L1412.0,980.3 L1413.5,981.2 L1415.0,982.6 L1416.5,983.1 L1418.0,983.2 L1419.5,984.6 L1421.0,984.8 L1422.5,985.3 L1423.7,986.1 L1424.0,986.4 L1425.5,987.2 L1427.0,987.5 L1428.5,988.1 L1430.0,988.4 L1431.5,988.5 L1433.0,989.6 L1434.5,989.7 L1436.0,991.5 L1437.5,991.2 L1439.0,992.1 L1440.5,992.8 L1442.0,992.5 L1443.5,993.9 L1445.0,993.7 L1446.5,993.8 L1448.0,995.0 L1449.5,995.2 L1450.2,996.1 L1451.0,995.6 L1452.5,995.6 L1454.0,995.8 L1455.5,996.3 L1457.0,997.3 L1458.5,998.0 L1460.0,997.4 L1461.5,998.2 L1463.0,998.7 L1464.5,999.7 L1466.0,1000.1 L1467.5,1000.3 L1469.0,1000.3 L1470.5,1000.5 L1472.0,1000.4 L1473.5,1001.2 L1475.0,1000.9 L1476.5,1001.4 L1478.0,1002.4 L1479.5,1002.3 L1481.0,1002.8 L1482.5,1002.7 L1484.0,1002.7 L1485.5,1003.3 L1487.0,1003.6 L1488.5,1003.4 L1489.8,1004.5 L1490.0,1004.7 L1491.5,1003.8 L1493.0,1004.1 L1494.5,1005.2 L1496.0,1005.2 L1497.5,1004.8 L1499.0,1005.5 L1500.5,1005.2 L1502.0,1006.3 L1503.5,1006.1 L1505.0,1006.1 L1506.5,1005.8 L1508.0,1006.4 L1509.5,1006.6 L1511.0,1006.7 L1512.5,1006.6 L1514.0,1006.8 L1515.5,1007.7 L1517.0,1008.1 L1518.5,1008.2 L1520.0,1008.1 L1521.5,1008.5 L1523.0,1007.7 L1524.5,1008.0 L1526.0,1008.9 L1527.5,1008.1 L1529.0,1008.4 L1529.5,1009.4 L1530.5,1008.7 L1532.0,1008.9 L1533.5,1009.3 L1535.0,1010.1 L1536.5,1009.2 L1538.0,1010.6 L1539.5,1010.0 L1541.0,1010.5 L1542.5,1010.6 L1544.0,1010.3 L1545.5,1011.6 L1547.0,1010.7 L1548.5,1011.8 L1550.0,1012.1 L1551.5,1011.6 L1553.0,1012.5 L1554.5,1011.4 L1556.0,1011.7 L1557.5,1012.4 L1559.0,1012.0 L1560.5,1013.1 L1562.0,1012.9 L1563.5,1013.4 L1565.0,1012.8 L1566.5,1012.6 L1568.0,1013.9 L1569.2,1013.1 L1569.5,1013.4 L1571.0,1013.1 L1572.5,1013.9 L1574.0,1013.8 L1575.5,1013.6 L1577.0,1013.5 L1578.5,1014.0 L1580.0,1014.7 L1581.5,1013.9 L1583.0,1014.2 L1584.5,1014.8 L1586.0,1014.9 L1587.5,1015.3 L1589.0,1015.2 L1590.5,1015.6 L1592.0,1014.7 L1593.5,1015.9 L1595.0,1014.7 L1596.5,1014.9 L1598.0,1015.0 L1599.5,1016.0 L1601.0,1015.7 L1602.5,1016.4 L1604.0,1016.6 L1605.5,1016.7 L1607.0,1016.3 L1608.5,1016.0 L1610.0,1016.9 L1611.5,1016.7 L1613.0,1016.0 L1614.5,1016.6 L1616.0,1015.9 L1617.5,1016.0 L1619.0,1017.0 L1620.5,1017.2 L1622.0,1017.4 L1623.5,1017.4 L1625.0,1016.6 L1626.5,1017.5 L1628.0,1017.9 L1629.5,1017.6 L1631.0,1017.3 L1632.5,1017.2 L1634.0,1016.9 L1635.5,1017.8 L1637.0,1018.3 L1638.5,1017.2 L1640.0,1018.2 L1641.5,1018.4 L1643.0,1017.7 L1644.5,1018.4 L1646.0,1017.5 L1647.5,1017.8 L1649.0,1018.2 L1650.5,1018.7 L1652.0,1018.3 L1653.5,1017.7 L1653.8,1018.9 L1655.0,1018.4 L1656.5,1018.8 L1658.0,1018.1 L1659.5,1018.3 L1661.0,1018.0 L1662.5,1018.2 L1664.0,1018.5 L1665.5,1018.6 L1667.0,1019.0 L1668.5,1019.2 L1670.0,1018.6 L1671.5,1019.5 L1673.0,1019.1 L1674.5,1018.7 L1676.0,1018.6 L1677.5,1019.7 L1679.0,1019.3 L1680.5,1018.5 L1682.0,1019.4 L1683.5,1019.0 L1685.0,1019.1 L1686.5,1019.7 L1688.0,1018.9 L1689.5,1019.0 L1691.0,1019.5 L1692.5,1020.0 L1694.0,1018.9 L1695.5,1020.0 L1697.0,1019.9 L1698.5,1019.1 L1700.0,1019.8 L1701.5,1019.8 L1703.0,1020.0 L1704.5,1019.8 L1706.0,1019.5 L1707.5,1019.8 L1709.0,1019.5 L1710.5,1019.8 L1712.0,1019.8 L1713.5,1019.4 L1715.0,1019.6 L1716.5,1019.8 L1718.0,1019.9 L1719.5,1020.1 L1721.0,1020.4 L1722.5,1019.8 L1724.0,1020.2 L1725.5,1019.9 L1727.0,1019.8 L1728.5,1019.7 L1730.0,1020.9 L1731.5,1020.9 L1733.0,1020.8 L1734.5,1019.9 L1736.0,1019.9 L1737.5,1019.8 L1738.4,1020.1 L1739.0,1020.3 L1740.5,1019.7 L1742.0,1020.4 L1743.5,1020.8 L1745.0,1021.0 L1746.5,1020.1 L1748.0,1019.9 L1749.5,1021.0 L1751.0,1020.4 L1752.5,1020.4 L1754.0,1020.2 L1755.5,1020.4 L1757.0,1020.4 L1758.5,1020.4 L1760.0,1020.4 L1761.5,1020.8 L1763.0,1021.2 L1764.5,1020.5 L1766.0,1020.7 L1767.5,1020.8 L1769.0,1021.4 L1770.5,1021.3 L1772.0,1021.6 L1773.5,1020.5 L1775.0,1021.4 L1776.5,1020.7 L1778.0,1021.1 L1779.5,1021.1 L1781.0,1021.1 L1782.5,1020.8 L1784.0,1020.5 L1785.5,1020.4 L1787.0,1021.7 L1788.5,1021.7 L1790.0,1021.1 L1791.5,1020.6 L1793.0,1021.7 L1794.5,1021.2 L1796.0,1021.2 L1797.5,1021.4 L1799.0,1020.8 L1800.5,1020.9 L1802.0,1021.8 L1803.5,1021.7 L1805.0,1022.0 L1806.5,1021.3 L1808.0,1022.1 L1809.5,1022.0 L1811.0,1021.4 L1812.5,1022.0 L1814.0,1021.0 L1815.5,1020.9 L1817.0,1022.0 L1818.5,1021.0 L1820.0,1021.6 L1821.5,1021.9 L1823.0,1021.9 L1824.5,1021.2 L1826.0,1022.0 L1827.5,1021.0 L1829.0,1021.8 L1830.5,1022.3 L1832.0,1021.8 L1833.5,1021.5 L1835.0,1022.5 L1836.5,1022.1 L1838.0,1022.2 L1839.5,1022.4 L1841.0,1022.5 L1842.5,1022.0 L1844.0,1022.4 L1845.5,1022.0 L1847.0,1021.6 L1848.5,1021.7 L1850.0,1021.7 L1851.5,1021.4 L1853.0,1022.2 L1854.5,1022.0 L1856.0,1022.7 L1857.5,1021.5 L1859.0,1022.6 L1860.5,1021.8 L1862.0,1022.0 L1863.5,1022.0 L1865.0,1022.9 L1866.5,1022.5 L1868.0,1022.3 L1869.5,1021.9 L1871.0,1021.7 L1872.5,1022.2 L1874.0,1023.1 L1875.5,1022.4 L1877.0,1022.7 L1878.5,1023.0 L1880.0,1021.9 L1881.5,1022.3 L1883.0,1022.4 L1884.5,1022.2 L1886.0,1022.4 L1887.5,1022.9 L1889.0,1022.1 L1890.5,1022.9 L1892.0,1022.4 L1893.5,1022.9 L1895.0,1022.3 L1896.5,1023.2 L1898.0,1022.7 L1899.5,1023.3 L1901.0,1023.5 L1902.5,1022.9 L1904.0,1022.2 L1905.5,1022.7 L1907.0,1023.6 L1907.6,1023.1 L1908.5,1023.3 L1910.0,1022.9 L1911.5,1023.6 L1913.0,1023.5 L1914.5,1023.1 L1916.0,1023.1 L1917.5,1022.5 L1919.0,1022.4 L1920.5,1022.7 L1922.0,1023.4 L1923.5,1023.6 L1925.0,1023.5 L1926.5,1023.7 L1928.0,1022.5 L1929.5,1022.5 L1931.0,1022.9 L1932.5,1022.6 L1934.0,1023.4 L1935.5,1023.9 L1937.0,1023.9 L1938.5,1022.8 L1940.0,1023.6 L1941.5,1023.6 L1943.0,1023.6 L1944.5,1023.3 L1946.0,1023.1 L1947.5,1024.0 L1949.0,1024.0 L1950.5,1023.8 L1952.0,1023.6 L1953.5,1022.9 L1955.0,1023.2 L1956.5,1023.2 L1958.0,1023.2 L1959.5,1023.2 L1961.0,1023.8 L1962.5,1023.9 L1964.0,1023.2 L1965.5,1024.2 L1967.0,1023.0 L1968.5,1024.3 L1970.0,1023.8 L1971.5,1023.9 L1973.0,1023.4 L1974.5,1024.0 L1976.0,1024.3 L1977.5,1023.3 L1979.0,1023.2 L1980.5,1024.2 L1982.0,1023.4 L1983.5,1023.2 L1985.0,1023.8 L1986.5,1023.4 L1988.0,1023.4 L1989.5,1023.5 L1991.0,1023.2 L1992.2,1024.2 L1992.5,1023.9 L1994.0,1024.0 L1995.5,1023.5 L1997.0,1024.2 L1998.5,1024.4 L2000.0,1024.5 L2001.5,1023.1 L2003.0,1023.5 L2004.5,1023.2 L2006.0,1023.7 L2007.5,1023.9 L2009.0,1023.9 L2010.5,1023.5 L2012.0,1024.3 L2013.5,1023.8 L2015.0,1024.3 L2016.5,1023.5 L2018.0,1023.7 L2019.5,1023.0 L2020.0,1023.6 L2021.0,1023.6 L2022.5,1022.5 L2024.0,1022.3 L2025.5,1020.7 L2027.0,1020.3 L2028.5,1019.9 L2030.0,1019.4 L2030.3,1018.9 L2031.5,1019.1 L2033.0,1019.7 L2034.5,1020.7 L2036.0,1021.1 L2037.5,1021.5 L2039.0,1022.4 L2040.5,1022.9 L2042.0,1023.0 L2043.5,1023.8 L2045.0,1023.8 L2046.5,1023.7 L2048.0,1023.4 L2049.5,1024.8 L2051.0,1023.7 L2052.5,1023.8 L2054.0,1024.2 L2055.5,1024.9 L2057.0,1025.2 L2058.5,1025.0 L2059.9,1024.2 L2060.0,1025.1 L2061.5,1023.9 L2063.0,1024.1 L2064.5,1024.1 L2066.0,1024.7 L2067.5,1024.7 L2069.0,1024.8 L2070.5,1025.2 L2072.0,1025.0 L2073.5,1024.9 L2075.0,1024.1 L2076.5,1025.2 L2078.0,1025.2 L2079.5,1025.1 L2081.0,1024.0 L2082.5,1024.9 L2084.0,1024.6 L2085.5,1024.6 L2087.0,1024.3 L2088.5,1025.0 L2090.0,1025.0 L2091.5,1025.0 L2093.0,1024.3 L2094.5,1024.9 L2096.0,1024.0 L2097.5,1024.8 L2099.0,1023.9 L2100.5,1023.9 L2102.0,1024.0 L2103.5,1024.8 L2105.0,1025.3 L2106.5,1024.5 L2108.0,1024.8 L2109.5,1024.7 L2111.0,1025.0 L2112.5,1025.2 L2114.0,1025.0 L2115.5,1024.3 L2117.0,1024.0 L2118.5,1025.1 L2120.0,1024.2 L2121.5,1024.9 L2123.0,1025.1 L2124.5,1024.1 L2126.0,1024.1 L2127.5,1024.4 L2129.0,1025.0 L2130.5,1025.0 L2132.0,1025.2 L2133.5,1024.2 L2135.0,1024.7 L2136.5,1025.0 L2138.0,1024.3 L2139.5,1024.6 L2141.0,1024.1 L2142.5,1025.0 L2144.0,1024.4 L2145.5,1024.4 L2147.0,1024.7 L2148.5,1024.2 L2150.0,1024.9 L2151.5,1024.4 L2153.0,1024.3 L2154.5,1024.7 L2156.0,1024.6 L2157.5,1024.7 L2159.0,1024.9 L2160.5,1024.8 L2162.0,1024.2 L2163.5,1024.6 L2165.0,1024.9 L2166.5,1023.7 L2168.0,1024.6 L2169.5,1024.4 L2171.0,1024.2 L2172.5,1023.8 L2174.0,1024.0 L2175.5,1024.6 L2177.0,1024.8 L2178.5,1024.9 L2180.0,1024.6 L2181.5,1024.2 L2183.0,1024.2" stroke="#00f" stroke-width="13.4"/>
<path d="M185.0,533.0 L186.5,533.0 L188.0,533.2 L189.5,532.8 L191.0,533.0 L192.5,532.9 L194.0,533.1 L195.5,533.2 L197.0,532.7 L198.5,532.6 L200.0,533.2 L201.5,532.9 L203.0,533.1 L204.5,532.6 L206.0,532.9 L207.5,533.1 L209.0,532.7 L210.5,533.2 L212.0,533.2 L213.5,532.5 L215.0,532.5 L216.5,532.9 L218.0,533.2 L219.5,532.8 L221.0,532.6 L222.5,532.8 L224.0,532.5 L225.5,532.6 L227.0,532.8 L228.5,532.8 L230.0,532.6 L231.5,532.6 L233.0,532.6 L234.5,532.7 L236.0,532.6 L237.5,532.4 L239.0,533.0 L240.5,532.8 L242.0,532.8 L243.5,532.5 L245.0,533.0 L246.5,532.9 L248.0,532.4 L249.5,532.6 L251.0,532.8 L252.5,532.8 L254.0,533.0 L255.5,532.6 L257.0,532.9 L258.5,532.8 L260.0,532.5 L261.5,532.7 L263.0,532.9 L264.5,532.8 L266.0,532.6 L267.5,532.6 L269.0,532.2 L270.5,532.4 L272.0,532.8 L273.5,532.5 L275.0,532.3 L276.5,532.6 L278.0,532.7 L279.5,532.6 L281.0,532.4 L282.5,532.5 L284.0,532.5 L285.5,532.7 L287.0,532.5 L288.5,532.4 L290.0,532.4 L291.5,532.1 L293.0,532.1 L294.5,532.6 L296.0,532.8 L297.5,532.5 L299.0,532.3 L300.5,532.2 L302.0,532.4 L303.5,532.7 L305.0,532.6 L306.5,532.4 L308.0,532.6 L309.5,532.1 L311.0,532.3 L312.5,532.6 L314.0,532.4 L315.5,532.3 L317.0,532.1 L318.5,532.3 L320.0,532.6 L321.5,531.9 L323.0,532.5 L324.5,532.5 L326.0,532.5 L327.5,532.4 L329.0,532.4 L330.5,532.2 L332.0,532.2 L333.5,532.1 L335.0,531.9 L336.5,532.4 L338.0,532.2 L339.5,531.9 L341.0,532.1 L342.5,532.1 L344.0,532.0 L345.5,532.0 L347.0,532.1 L348.5,532.2 L350.0,532.2 L351.5,532.0 L353.0,531.7 L354.5,531.9 L356.0,531.8 L357.5,532.1 L359.0,532.3 L360.5,532.2 L362.0,532.2 L363.5,532.2 L365.0,531.8 L366.5,532.2 L368.0,532.1 L369.5,531.7 L371.0,531.6 L372.5,531.6 L374.0,532.1 L375.5,531.7 L377.0,531.6 L378.5,532.0 L380.0,531.8 L381.5,531.6 L383.0,531.6 L384.5,531.9 L386.0,531.6 L387.5,531.7 L389.0,532.0 L390.5,531.8 L391.5,531.7 L392.0,531.8 L393.5,531.5 L395.0,531.7 L396.5,531.7 L398.0,531.5 L399.5,531.5 L401.0,532.0 L402.5,531.7 L404.0,531.5 L405.5,531.8 L407.0,531.9 L408.5,531.3 L410.0,531.3 L411.5,531.4 L413.0,531.8 L414.5,531.4 L416.0,531.8 L417.5,531.7 L419.0,531.6 L420.5,531.4 L422.0,531.9 L423.5,531.8 L425.0,531.6 L426.5,531.4 L428.0,531.6 L429.5,531.5 L431.0,531.6 L432.5,531.4 L434.0,531.6 L435.5,531.2 L437.0,531.3 L438.5,531.8 L440.0,531.7 L441.5,531.3 L443.0,531.7 L444.5,531.3 L446.0,531.7 L447.5,531.6 L449.0,531.3 L450.5,531.2 L452.0,531.0 L453.5,531.6 L455.0,531.0 L456.5,531.5 L458.0,531.6 L459.5,531.3 L461.0,531.1 L462.5,531.5 L464.0,531.6 L465.5,531.4 L467.0,531.2 L468.5,531.1 L470.0,531.1 L471.5,531.0 L473.0,531.3 L474.5,531.1 L476.0,530.9 L477.5,530.9 L479.0,531.2 L480.5,531.0 L482.0,531.1 L483.5,531.0 L485.0,531.3 L486.5,531.4 L488.0,530.7 L489.5,530.8 L491.0,530.9 L492.5,531.4 L494.0,531.2 L495.5,530.9 L497.0,530.8 L498.5,531.1 L500.0,531.2 L501.5,531.2 L503.0,530.8 L504.5,531.2 L506.0,531.0 L507.5,530.9 L509.0,531.2 L510.5,530.7 L512.0,531.0 L513.5,530.5 L515.0,530.6 L516.5,531.1 L518.0,530.6 L519.5,531.0 L521.0,530.8 L522.5,531.0 L524.0,530.7 L525.5,530.6 L527.0,530.6 L528.5,531.0 L530.0,530.8 L531.5,531.0 L533.0,530.9 L534.5,530.4 L536.0,530.7 L537.5,530.3 L539.0,530.3 L540.5,530.3 L542.0,530.8 L543.5,530.8 L545.0,530.8 L546.5,530.4 L548.0,530.6 L549.5,530.7 L551.0,530.4 L552.5,530.5 L554.0,530.3 L555.5,530.2 L557.0,530.3 L558.5,530.7 L560.0,530.5 L561.5,530.7 L563.0,530.4 L564.5,530.2 L566.0,530.6 L567.5,530.6 L569.0,530.0 L570.5,530.4 L572.0,530.0 L573.5,530.0 L575.0,530.5 L576.5,529.9 L578.0,530.1 L579.5,530.6 L581.0,530.2 L582.5,529.9 L584.0,530.0 L585.5,530.0 L587.0,530.3 L588.5,529.9 L590.0,530.4 L591.5,530.0 L593.0,530.4 L594.5,530.4 L596.0,529.9 L597.5,529.9 L599.0,530.0 L600.5,529.7 L602.0,530.1 L603.0,529.7 L603.5,529.7 L605.0,530.3 L606.5,529.8 L608.0,530.0 L609.5,529.9 L611.0,529.8 L612.5,529.6 L614.0,530.2 L615.5,530.2 L617.0,530.2 L618.5,529.6 L620.0,529.6 L621.5,529.9 L623.0,530.1 L624.5,529.8 L626.0,529.9 L627.5,529.9 L629.0,529.6 L630.5,529.7 L632.0,529.6 L633.5,529.5 L635.0,529.4 L636.5,529.5 L638.0,530.0 L639.5,529.6 L641.0,529.7 L642.5,529.7 L644.0,529.9 L645.5,529.5 L647.0,529.4 L648.5,529.4 L650.0,529.4 L651.5,529.7 L653.0,529.7 L654.5,529.3 L656.0,529.3 L657.5,529.4 L659.0,529.4 L660.5,529.4 L662.0,529.2 L663.5,529.0 L665.0,529.1 L666.5,529.0 L668.0,529.3 L669.5,528.9 L671.0,528.9 L672.5,529.3 L674.0,529.0 L675.5,529.4 L677.0,529.2 L678.5,529.4 L680.0,528.9 L681.5,529.1 L683.0,529.3 L684.5,528.8 L686.0,529.4 L687.5,528.8 L689.0,529.2 L690.5,529.3 L692.0,529.2 L693.5,528.8 L695.0,528.7 L696.5,528.9 L698.0,529.2 L699.5,528.8 L700.0,529.2 L701.0,528.6 L702.5,529.2 L704.0,528.5 L705.5,528.7 L707.0,529.1 L708.5,529.0 L710.0,529.1 L711.5,529.0 L713.0,528.9 L714.5,528.9 L716.0,528.5 L717.5,528.7 L719.0,528.5 L720.5,528.8 L722.0,528.8 L723.5,528.5 L725.0,528.3 L726.5,529.0 L728.0,528.8 L729.5,528.6 L731.0,528.6 L732.5,528.8 L734.0,528.5 L735.5,528.5 L737.0,528.4 L738.5,528.4 L740.0,528.2 L741.5,528.6 L743.0,528.4 L744.5,528.5 L746.0,528.2 L747.5,528.3 L749.0,528.2 L750.5,528.2 L752.0,528.2 L753.5,528.6 L755.0,528.3 L756.5,528.3 L758.0,528.4 L759.5,528.1 L761.0,528.0 L762.5,528.3 L764.0,528.3 L765.5,528.4 L767.0,528.2 L768.5,528.4 L770.0,528.4 L771.5,528.0 L773.0,528.2 L774.5,528.1 L776.0,527.9 L777.5,528.1 L779.0,528.1 L780.5,528.4 L782.0,528.3 L783.5,527.9 L785.0,528.1 L785.8,527.7 L786.5,527.7 L788.0,528.0 L789.5,528.2 L791.0,527.7 L792.5,528.1 L794.0,528.1 L795.5,527.7 L797.0,528.0 L798.5,528.1 L800.0,527.7 L801.5,527.9 L803.0,527.9 L804.5,527.8 L806.0,527.9 L807.5,527.9 L809.0,528.0 L810.5,527.7 L812.0,527.4 L813.5,527.4 L815.0,527.3 L816.5,527.5 L818.0,527.7 L819.5,527.1 L821.0,527.5 L822.5,527.5 L824.0,527.2 L825.5,527.3 L827.0,527.1 L828.5,527.4 L830.0,526.9 L831.5,527.5 L833.0,527.4 L834.5,527.2 L836.0,526.9 L837.5,527.3 L839.0,527.3 L840.5,526.7 L842.0,527.1 L843.5,527.1 L845.0,527.0 L846.5,527.0 L848.0,526.8 L849.5,527.0 L851.0,527.0 L852.5,526.6 L854.0,526.8 L855.5,526.5 L857.0,526.3 L858.5,526.4 L860.0,526.2 L861.5,526.7 L863.0,526.7 L864.5,526.0 L866.0,526.3 L867.5,526.1 L869.0,525.9 L870.4,526.0 L870.5,525.9 L872.0,526.2 L873.5,525.6 L875.0,525.7 L876.5,525.8 L878.0,525.4 L879.5,525.8 L881.0,525.7 L882.5,525.8 L884.0,525.3 L885.5,525.2 L887.0,525.3 L888.5,525.0 L890.0,525.2 L891.5,524.8 L893.0,525.0 L894.5,525.0 L896.0,524.9 L897.5,524.9 L899.0,524.5 L900.5,524.3 L902.0,524.5 L903.5,524.3 L905.0,524.1 L906.5,523.8 L908.0,523.6 L909.5,523.4 L911.0,523.7 L912.5,523.1 L914.0,523.4 L915.5,523.2 L917.0,523.3 L918.5,523.1 L920.0,523.1 L921.5,522.4 L923.0,522.5 L924.5,522.4 L926.0,522.1 L927.5,522.1 L929.0,521.9 L930.5,521.9 L932.0,521.4 L933.5,521.6 L933.8,521.6 L935.0,521.4 L936.5,521.3 L938.0,521.4 L939.5,521.3 L941.0,521.0 L942.5,521.0 L944.0,520.7 L945.5,520.4 L947.0,520.1 L948.5,520.2 L950.0,520.3 L951.5,520.4 L953.0,520.2 L954.5,519.8 L956.0,520.0 L957.5,519.5 L959.0,519.6 L960.5,519.2 L962.0,519.3 L963.5,519.3 L965.0,518.7 L966.5,518.5 L968.0,518.6 L969.5,518.4 L971.0,518.1 L972.5,517.7 L974.0,517.9 L975.5,517.7 L977.0,517.5 L978.5,517.7 L980.0,517.3 L981.5,517.3 L983.0,517.2 L984.5,517.0 L986.0,516.6 L987.5,516.6 L989.0,516.3 L990.5,516.2 L992.0,516.0 L993.5,515.6 L995.0,515.6 L996.5,515.4 L997.3,515.5 L998.0,515.3 L999.5,515.1 L1001.0,514.9 L1002.5,514.7 L1004.0,514.3 L1005.5,514.0 L1007.0,513.7 L1008.5,513.7 L1010.0,513.6 L1011.5,513.2 L1013.0,512.6 L1014.5,512.9 L1016.0,512.4 L1017.5,512.1 L1019.0,511.5 L1020.5,511.6 L1022.0,511.5 L1023.5,511.0 L1025.0,510.6 L1026.5,510.6 L1028.0,509.8 L1029.5,509.8 L1031.0,509.8 L1032.5,509.3 L1034.0,508.8 L1035.5,508.7 L1037.0,508.3 L1038.5,507.7 L1039.6,507.4 L1040.0,507.8 L1041.5,507.0 L1043.0,506.4 L1044.5,506.6 L1046.0,505.9 L1047.5,505.4 L1049.0,505.0 L1050.5,504.7 L1052.0,503.8 L1053.5,503.7 L1055.0,503.2 L1056.5,502.7 L1058.0,501.8 L1059.5,501.5 L1061.0,500.7 L1062.5,500.4 L1064.0,499.5 L1065.5,499.4 L1067.0,498.9 L1068.5,497.9 L1070.0,497.3 L1071.5,497.2 L1073.0,496.5 L1074.5,496.0 L1076.0,494.8 L1077.5,494.8 L1079.0,494.1 L1080.0,493.5 L1080.5,493.4 L1082.0,493.0 L1083.5,492.5 L1085.0,491.5 L1086.5,491.3 L1088.0,490.3 L1089.5,490.3 L1091.0,489.3 L1092.5,489.0 L1094.0,488.1 L1095.5,487.3 L1095.9,486.8 L1097.0,486.4 L1098.5,485.2 L1100.0,484.3 L1101.5,483.7 L1103.0,482.3 L1104.5,481.5 L1106.0,479.8 L1107.5,479.1 L1109.0,477.8 L1110.5,475.9 L1111.7,474.6 L1112.0,474.7 L1113.5,473.4 L1115.0,471.2 L1116.5,469.7 L1118.0,467.7 L1119.5,466.8 L1121.0,465.5 L1122.5,462.2 L1124.0,459.7 L1125.0,459.7 L1125.5,459.3 L1127.0,457.3 L1128.5,454.0 L1130.0,450.7 L1131.5,449.1 L1133.0,444.4 L1134.5,443.1 L1135.5,439.6 L1136.0,439.5 L1137.5,436.9 L1139.0,433.7 L1140.5,430.1 L1142.0,427.3 L1143.5,426.1 L1145.0,421.8 L1146.1,419.9 L1146.5,417.7 L1148.0,416.0 L1149.5,411.1 L1151.0,408.4 L1152.5,405.9 L1154.0,402.9 L1155.5,396.5 L1157.0,396.5 L1158.5,394.1 L1160.0,389.3 L1161.5,386.1 L1162.0,385.5 L1163.0,383.4 L1164.5,375.2 L1166.0,370.2 L1167.3,365.0 L1167.5,362.3 L1169.0,361.1 L1170.5,354.6 L1172.0,352.1 L1173.5,350.7 L1175.0,344.6 L1175.2,345.2 L1176.5,340.0 L1178.0,335.3 L1179.5,330.2 L1180.5,325.9 L1181.0,320.2 L1182.5,311.2 L1184.0,306.0 L1184.4,301.7 L1185.5,299.4 L1187.0,295.6 L1188.5,292.9 L1190.0,290.3 L1191.5,290.0 L1193.0,287.4 L1193.7,285.5 L1194.5,283.7 L1196.0,277.8 L1197.5,271.0 L1199.0,266.0 L1200.3,262.7 L1200.5,260.9 L1202.0,254.7 L1203.5,249.4 L1205.0,248.3 L1206.5,243.5 L1206.9,241.9 L1208.0,240.9 L1209.5,238.7 L1211.0,237.0 L1212.5,233.7 L1214.0,232.8 L1215.5,230.4 L1216.2,228.1 L1217.0,227.7 L1218.5,217.9 L1220.0,211.6 L1220.1,211.5 L1221.5,208.2 L1223.0,205.4 L1224.4,202.9 L1224.5,200.9 L1226.0,200.3 L1227.5,194.1 L1229.0,193.7 L1229.6,192.3 L1230.5,190.4 L1232.0,184.4 L1233.5,181.4 L1235.0,181.2 L1236.5,177.6 L1237.0,176.5 L1238.0,177.6 L1239.5,172.8 L1241.0,173.3 L1242.5,171.7 L1244.0,169.1 L1244.4,169.6 L1245.5,169.3 L1247.0,167.6 L1248.5,162.0 L1250.0,161.1 L1251.5,156.9 L1253.0,156.9 L1253.3,153.8 L1254.5,151.7 L1256.0,150.5 L1257.5,149.4 L1259.0,145.7 L1260.0,143.7 L1260.5,145.4 L1262.0,143.8 L1263.5,142.5 L1265.0,138.9 L1265.9,138.2 L1266.5,136.8 L1268.0,135.6 L1269.5,132.4 L1271.0,130.0 L1271.8,130.3 L1272.5,129.9 L1274.0,126.2 L1275.5,122.1 L1277.0,121.9 L1278.5,119.1 L1279.2,120.3 L1280.0,118.4 L1281.5,117.3 L1283.0,115.5 L1284.5,113.6 L1286.0,113.6 L1287.5,112.1 L1288.9,109.4 L1289.0,109.0 L1290.5,108.4 L1292.0,107.6 L1293.5,105.6 L1295.0,105.1 L1296.5,104.5 L1298.0,103.2 L1298.5,103.8 L1299.5,103.3 L1301.0,102.5 L1302.5,102.0 L1304.0,101.6 L1305.5,101.3 L1307.0,101.5 L1307.4,101.3 L1308.5,101.4 L1310.0,101.2 L1311.5,102.0 L1313.0,102.0 L1314.5,102.4 L1316.0,102.6 L1316.3,103.3 L1317.5,103.4 L1319.0,104.5 L1320.5,105.5 L1322.0,106.5 L1322.2,106.5 L1323.5,107.4 L1325.0,108.5 L1326.5,109.5 L1328.0,110.2 L1329.5,111.7 L1329.6,111.9 L1331.0,113.4 L1332.5,114.7 L1334.0,116.2 L1335.5,117.9 L1337.0,119.5 L1338.5,121.8 L1340.0,123.7 L1341.5,125.9 L1343.0,128.5 L1344.5,131.7 L1346.0,134.3 L1347.5,137.1 L1349.0,140.2 L1349.7,142.1 L1350.5,143.8 L1352.0,147.7 L1353.5,151.1 L1355.0,155.3 L1356.5,159.9 L1357.6,162.8 L1358.0,164.1 L1359.5,169.2 L1361.0,174.3 L1362.5,179.8 L1364.0,185.9 L1364.2,187.0 L1365.5,192.7 L1367.0,199.8 L1368.5,207.7 L1369.5,213.6 L1370.0,216.2 L1371.5,224.3 L1373.0,233.7 L1374.5,242.7 L1374.8,245.0 L1376.0,254.2 L1377.5,266.3 L1378.8,276.6 L1379.0,278.7 L1380.5,290.5 L1382.0,302.6 L1382.8,308.9 L1383.5,313.9 L1385.0,325.4 L1386.5,336.2 L1386.7,337.9 L1388.0,346.9 L1389.5,356.9 L1390.7,364.3 L1391.0,366.2 L1392.5,373.8 L1394.0,381.4 L1395.5,388.6 L1396.0,390.7 L1397.0,394.5 L1398.5,400.1 L1400.0,405.0 L1401.3,409.3 L1401.5,409.8 L1403.0,413.7 L1404.5,417.2 L1406.0,421.3 L1407.5,424.3 L1409.0,426.9 L1409.2,427.4 L1410.5,429.8 L1412.0,431.7 L1413.5,433.9 L1415.0,436.1 L1416.5,438.4 L1418.0,440.1 L1419.5,442.0 L1421.0,443.3 L1421.1,443.5 L1422.5,444.9 L1424.0,446.4 L1425.5,447.8 L1427.0,449.4 L1428.5,450.8 L1430.0,451.7 L1431.5,453.1 L1433.0,454.1 L1434.3,455.2 L1434.5,455.5 L1436.0,456.7 L1437.5,457.9 L1439.0,459.4 L1440.5,460.0 L1442.0,461.5 L1443.5,462.9 L1445.0,463.8 L1446.5,464.8 L1448.0,465.7 L1449.5,466.7 L1450.2,467.5 L1451.0,468.0 L1452.5,468.8 L1454.0,469.8 L1455.5,470.8 L1457.0,471.6 L1458.5,472.2 L1460.0,473.1 L1461.5,474.1 L1463.0,474.6 L1464.5,475.7 L1466.0,476.2 L1467.5,476.8 L1469.0,477.5 L1470.5,477.9 L1471.3,478.4 L1472.0,478.7 L1473.5,479.0 L1475.0,479.6 L1476.5,480.2 L1478.0,481.1 L1479.5,481.4 L1481.0,481.7 L1482.5,482.6 L1484.0,482.5 L1485.5,483.1 L1487.0,483.7 L1488.5,484.1 L1490.0,484.3 L1491.5,484.9 L1493.0,485.1 L1494.5,485.6 L1496.0,485.8 L1497.5,486.5 L1497.8,486.4 L1499.0,486.2 L1500.5,486.6 L1502.0,487.5 L1503.5,487.3 L1505.0,487.5 L1506.5,488.0 L1508.0,488.4 L1509.5,489.1 L1511.0,489.0 L1512.5,489.5 L1514.0,489.9 L1515.5,489.7 L1517.0,490.3 L1518.5,490.9 L1520.0,490.8 L1521.5,491.0 L1523.0,491.2 L1524.5,491.8 L1526.0,492.0 L1527.5,491.7 L1529.0,492.2 L1529.5,492.1 L1530.5,492.4 L1532.0,492.2 L1533.5,492.5 L1535.0,492.7 L1536.5,493.0 L1538.0,493.4 L1539.5,493.7 L1541.0,493.8 L1542.5,493.9 L1544.0,493.6 L1545.5,494.0 L1547.0,494.3 L1548.5,494.2 L1550.0,494.5 L1551.5,495.0 L1553.0,494.5 L1554.5,495.2 L1556.0,494.8 L1557.5,495.2 L1559.0,495.7 L1560.5,495.3 L1562.0,495.7 L1563.5,495.7 L1565.0,496.2 L1566.5,496.4 L1568.0,496.0 L1569.5,496.3 L1571.0,496.7 L1572.5,496.5 L1574.0,496.4 L1575.5,496.9 L1577.0,496.7 L1578.5,496.9 L1580.0,496.7 L1581.5,497.5 L1583.0,497.4 L1584.5,497.7 L1586.0,497.8 L1587.5,497.4 L1589.0,497.7 L1590.4,497.8 L1590.5,498.0 L1592.0,498.1 L1593.5,497.8 L1595.0,497.9 L1596.5,498.3 L1598.0,498.2 L1599.5,498.1 L1601.0,498.3 L1602.5,498.6 L1604.0,498.7 L1605.5,499.1 L1607.0,498.8 L1608.5,499.0 L1610.0,498.7 L1611.5,499.0 L1613.0,499.0 L1614.5,499.4 L1616.0,499.1 L1617.5,499.2 L1619.0,499.4 L1620.5,499.5 L1622.0,499.5 L1623.5,499.7 L1625.0,499.5 L1626.5,500.1 L1628.0,500.0 L1629.5,500.0 L1631.0,499.7 L1632.5,500.0 L1634.0,500.3 L1635.5,500.4 L1637.0,500.6 L1638.5,500.7 L1640.0,500.4 L1641.5,500.6 L1643.0,500.5 L1644.5,500.5 L1646.0,500.5 L1647.5,500.7 L1649.0,500.7 L1650.5,501.0 L1652.0,501.2 L1653.5,501.2 L1653.8,501.3 L1655.0,501.1 L1656.5,501.1 L1658.0,501.5 L1659.5,501.8 L1661.0,501.5 L1662.5,501.3 L1664.0,501.4 L1665.5,501.7 L1667.0,502.0 L1668.5,501.7 L1670.0,501.9 L1671.5,502.3 L1673.0,502.6 L1674.5,502.2 L1676.0,502.5 L1677.5,502.5 L1679.0,502.2 L1680.5,502.5 L1682.0,502.5 L1683.5,502.6 L1685.0,503.1 L1686.5,503.1 L1688.0,502.7 L1689.5,502.9 L1691.0,503.4 L1692.5,503.0 L1694.0,503.3 L1695.5,503.3 L1697.0,503.2 L1698.5,503.3 L1700.0,503.5 L1701.5,503.7 L1703.0,504.2 L1704.5,504.1 L1706.0,503.9 L1707.5,504.3 L1709.0,504.1 L1710.5,504.3 L1712.0,504.3 L1713.5,504.8 L1715.0,504.5 L1716.5,504.9 L1718.0,504.8 L1719.5,505.1 L1721.0,505.0 L1722.5,505.2 L1724.0,505.0 L1725.5,505.3 L1727.0,505.3 L1728.5,505.4 L1730.0,505.5 L1731.5,505.5 L1733.0,505.5 L1734.5,506.0 L1736.0,505.9 L1737.5,505.9 L1738.4,505.6 L1739.0,505.9 L1740.5,505.8 L1742.0,505.9 L1743.5,506.2 L1745.0,506.3 L1746.5,506.2 L1748.0,506.3 L1749.5,506.6 L1751.0,506.6 L1752.5,506.7 L1754.0,506.5 L1755.5,506.8 L1757.0,507.1 L1758.5,507.1 L1760.0,507.2 L1761.5,507.5 L1763.0,507.5 L1764.5,507.6 L1766.0,507.2 L1767.5,507.5 L1769.0,507.9 L1770.5,507.6 L1772.0,508.2 L1773.5,507.8 L1775.0,508.4 L1776.5,508.0 L1778.0,508.5 L1779.5,508.6 L1781.0,508.4 L1782.5,508.8 L1784.0,508.4 L1785.5,509.0 L1787.0,508.8 L1788.5,508.9 L1790.0,508.8 L1791.5,509.2 L1793.0,509.1 L1794.5,509.4 L1796.0,509.6 L1797.5,509.6 L1799.0,509.2 L1800.5,510.0 L1802.0,510.1 L1803.5,510.0 L1805.0,509.9 L1806.5,510.1 L1808.0,510.4 L1809.5,510.2 L1811.0,510.5 L1812.5,510.5 L1814.0,510.4 L1815.5,510.9 L1817.0,510.6 L1818.5,510.8 L1820.0,510.5 L1821.5,510.9 L1823.0,510.7 L1824.5,511.2 L1826.0,510.8 L1827.5,510.9 L1829.0,511.1 L1830.5,511.2 L1832.0,511.5 L1833.5,511.5 L1835.0,511.5 L1836.5,512.1 L1838.0,512.1 L1839.5,512.0 L1841.0,512.2 L1842.5,512.3 L1844.0,512.0 L1845.5,512.5 L1847.0,512.2 L1848.5,512.5 L1850.0,512.4 L1851.5,512.4 L1853.0,512.9 L1854.5,513.1 L1856.0,512.7 L1857.5,513.2 L1859.0,512.9 L1860.5,513.2 L1862.0,513.5 L1863.5,513.5 L1865.0,513.1 L1866.5,513.4 L1868.0,513.4 L1869.5,513.5 L1871.0,513.9 L1872.5,513.7 L1874.0,514.0 L1875.5,514.0 L1877.0,514.0 L1878.5,513.8 L1880.0,514.3 L1881.5,514.5 L1883.0,514.1 L1884.5,514.5 L1886.0,514.5 L1887.5,514.5 L1889.0,514.8 L1890.5,515.1 L1892.0,514.5 L1893.5,515.2 L1895.0,514.9 L1896.5,515.3 L1898.0,514.9 L1899.5,515.3 L1901.0,515.0 L1902.5,515.2 L1904.0,515.8 L1905.5,515.6 L1907.0,515.8 L1907.6,515.6 L1908.5,515.6 L1910.0,515.7 L1911.5,516.0 L1913.0,516.0 L1914.5,515.7 L1916.0,516.0 L1917.5,516.1 L1919.0,516.2 L1920.5,516.5 L1922.0,516.5 L1923.5,516.1 L1925.0,516.4 L1926.5,516.3 L1928.0,516.3 L1929.5,516.4 L1931.0,516.5 L1932.5,517.0 L1934.0,517.0 L1935.5,517.2 L1937.0,516.9 L1938.5,516.9 L1940.0,517.5 L1941.5,517.5 L1943.0,517.6 L1944.5,517.0 L1946.0,517.4 L1947.5,517.6 L1949.0,517.8 L1950.5,518.0 L1952.0,517.8 L1953.5,517.7 L1955.0,517.5 L1956.5,518.1 L1958.0,518.3 L1959.5,518.4 L1961.0,518.2 L1962.5,518.1 L1964.0,518.1 L1965.5,518.5 L1967.0,518.7 L1968.5,518.8 L1970.0,518.3 L1971.5,518.6 L1973.0,518.7 L1974.5,518.7 L1976.0,519.0 L1977.5,519.1 L1979.0,519.1 L1980.5,519.1 L1982.0,519.1 L1983.5,519.2 L1985.0,519.2 L1986.5,519.0 L1988.0,519.4 L1989.5,519.0 L1991.0,519.5 L1992.2,519.3 L1992.5,519.5 L1994.0,519.6 L1995.5,519.5 L1997.0,519.9 L1998.5,519.4 L2000.0,519.3 L2001.5,520.1 L2003.0,519.7 L2004.5,519.7 L2006.0,519.8 L2007.5,520.0 L2009.0,520.3 L2010.5,520.2 L2012.0,520.0 L2013.5,520.2 L2015.0,520.2 L2016.5,520.2 L2018.0,520.2 L2019.5,520.1 L2021.0,520.3 L2022.5,520.4 L2024.0,520.3 L2025.5,520.7 L2027.0,520.5 L2028.5,520.4 L2030.0,520.7 L2031.5,521.0 L2033.0,521.0 L2034.5,520.9 L2036.0,521.0 L2037.5,520.8 L2039.0,520.7 L2040.5,520.8 L2042.0,520.9 L2043.5,520.9 L2045.0,521.1 L2046.5,520.9 L2048.0,520.9 L2049.5,521.1 L2051.0,521.1 L2052.5,521.5 L2054.0,521.4 L2055.5,521.2 L2057.0,521.4 L2058.5,521.8 L2060.0,521.6 L2061.5,521.6 L2063.0,521.5 L2064.5,521.5 L2066.0,521.8 L2067.5,521.5 L2069.0,522.0 L2070.5,521.5 L2072.0,522.0 L2073.5,521.8 L2075.0,522.1 L2076.5,522.1 L2076.8,521.7 L2078.0,522.1 L2079.5,521.8 L2081.0,521.9 L2082.5,522.1 L2084.0,522.0 L2085.5,522.3 L2087.0,522.6 L2088.5,522.2 L2090.0,522.6 L2091.5,522.2 L2093.0,522.6 L2094.5,522.4 L2096.0,522.5 L2097.5,522.3 L2099.0,522.8 L2100.5,522.4 L2102.0,522.6 L2103.5,522.6 L2105.0,523.0 L2106.5,522.8 L2108.0,522.9 L2109.5,523.0 L2111.0,522.7 L2112.5,522.6 L2114.0,523.2 L2115.5,522.9 L2117.0,523.3 L2118.5,523.4 L2120.0,523.2 L2121.5,522.9 L2123.0,523.4 L2124.5,523.3 L2126.0,523.1 L2127.5,523.1 L2129.0,523.3 L2130.5,523.1 L2132.0,523.7 L2133.5,523.6 L2135.0,523.7 L2136.5,523.4 L2138.0,523.8 L2139.5,523.3 L2141.0,523.8 L2142.5,523.5 L2144.0,523.3 L2145.5,523.4 L2147.0,523.5 L2148.5,524.0 L2150.0,523.7 L2151.5,523.8 L2153.0,524.0 L2154.5,523.7 L2156.0,524.0 L2157.5,524.1 L2159.0,524.3 L2160.5,524.0 L2162.0,524.3 L2163.5,524.4 L2165.0,524.3 L2166.5,524.1 L2168.0,524.0 L2169.5,523.9 L2171.0,524.5 L2172.5,524.0 L2174.0,524.4 L2175.5,524.3 L2177.0,524.1 L2178.5,524.2 L2180.0,524.7 L2181.5,524.5 L2183.0,524.5" stroke="#f0f" stroke-width="12"/>
</g>
<g stroke="#000" stroke-width="8" stroke-linecap="round" stroke-dasharray="28.3 37.2" fill="none">
<path d="M1132,326V1991.7"/>
<path d="M1294.2,78.4V1743.5"/>
</g>
<g stroke="#000" stroke-width="8" stroke-linecap="round" stroke-linejoin="round" fill="#000">
<path d="M1064.9,284.0L1088.1,303.4" fill="none"/>
<path d="M1115.0,325.8L1082.6,310.0L1093.7,296.7Z"/>
<path d="M1405.9,106.0L1345.5,95.6" fill="none"/>
<path d="M1311.0,89.6L1347.0,87.0L1344.0,104.1Z"/>
</g>
<g font-family="'Liberation Sans',Arial,Helvetica,sans-serif" filter="url(#al)">
<text transform="translate(407.0,2174.3) scale(1.0,1.02)" font-size="75" fill="#000" text-anchor="middle" font-weight="bold">200</text>
<text transform="translate(851.0,2174.3) scale(1.0,1.02)" font-size="75" fill="#000" text-anchor="middle" font-weight="bold">300</text>
<text transform="translate(1295.0,2174.3) scale(1.0,1.02)" font-size="75" fill="#000" text-anchor="middle" font-weight="bold">400</text>
<text transform="translate(1739.0,2174.3) scale(1.0,1.02)" font-size="75" fill="#000" text-anchor="middle" font-weight="bold">500</text>
<text transform="translate(2183.0,2174.3) scale(1.0,1.02)" font-size="75" fill="#000" text-anchor="middle" font-weight="bold">600</text>
<text transform="translate(1184.3,2311.7) scale(1.0,1.04)" font-size="75" fill="#000" text-anchor="middle" letter-spacing="0.35" font-weight="bold">Temperature (<tspan dx="-2" dy="-4" font-size="80">°</tspan><tspan dx="-4" dy="4">C)</tspan></text>
<text transform="translate(76.7,1100.5) rotate(-90) scale(1.0,1.05)" font-size="74" fill="#000" text-anchor="middle" letter-spacing="0.1" font-weight="bold">Relative intensity</text>
<text transform="translate(206.5,489.7) scale(1.0,1.045)" font-size="75" fill="#f0f" font-weight="bold">PPF/HNT</text>
<text transform="translate(209,988) scale(1.0,1.045)" font-size="75" fill="#00f" letter-spacing="0.3" font-weight="bold">PPF/MMT 20A</text>
<text transform="translate(218.5,1434.7) scale(1.0,1.045)" font-size="75" fill="#f00" font-weight="bold">PPF/MMT</text>
<text transform="translate(209.5,1970) scale(1.0,1.045)" font-size="75" fill="#000" font-weight="bold">PPF</text>
<text transform="translate(820,286.5) scale(1.0,1.027)" font-size="75" fill="#000" letter-spacing="0.5">360 <tspan dx="-4.5" dy="-3.5" font-size="81">°</tspan><tspan dx="-6" dy="3.5">C</tspan></text>
<text transform="translate(1410.5,133.7) scale(1.0,1.027)" font-size="75" fill="#000" letter-spacing="0.5">400 <tspan dx="-4.5" dy="-3.5" font-size="81">°</tspan><tspan dx="-6" dy="3.5">C</tspan></text>
</g>
</svg>
</body></html>
